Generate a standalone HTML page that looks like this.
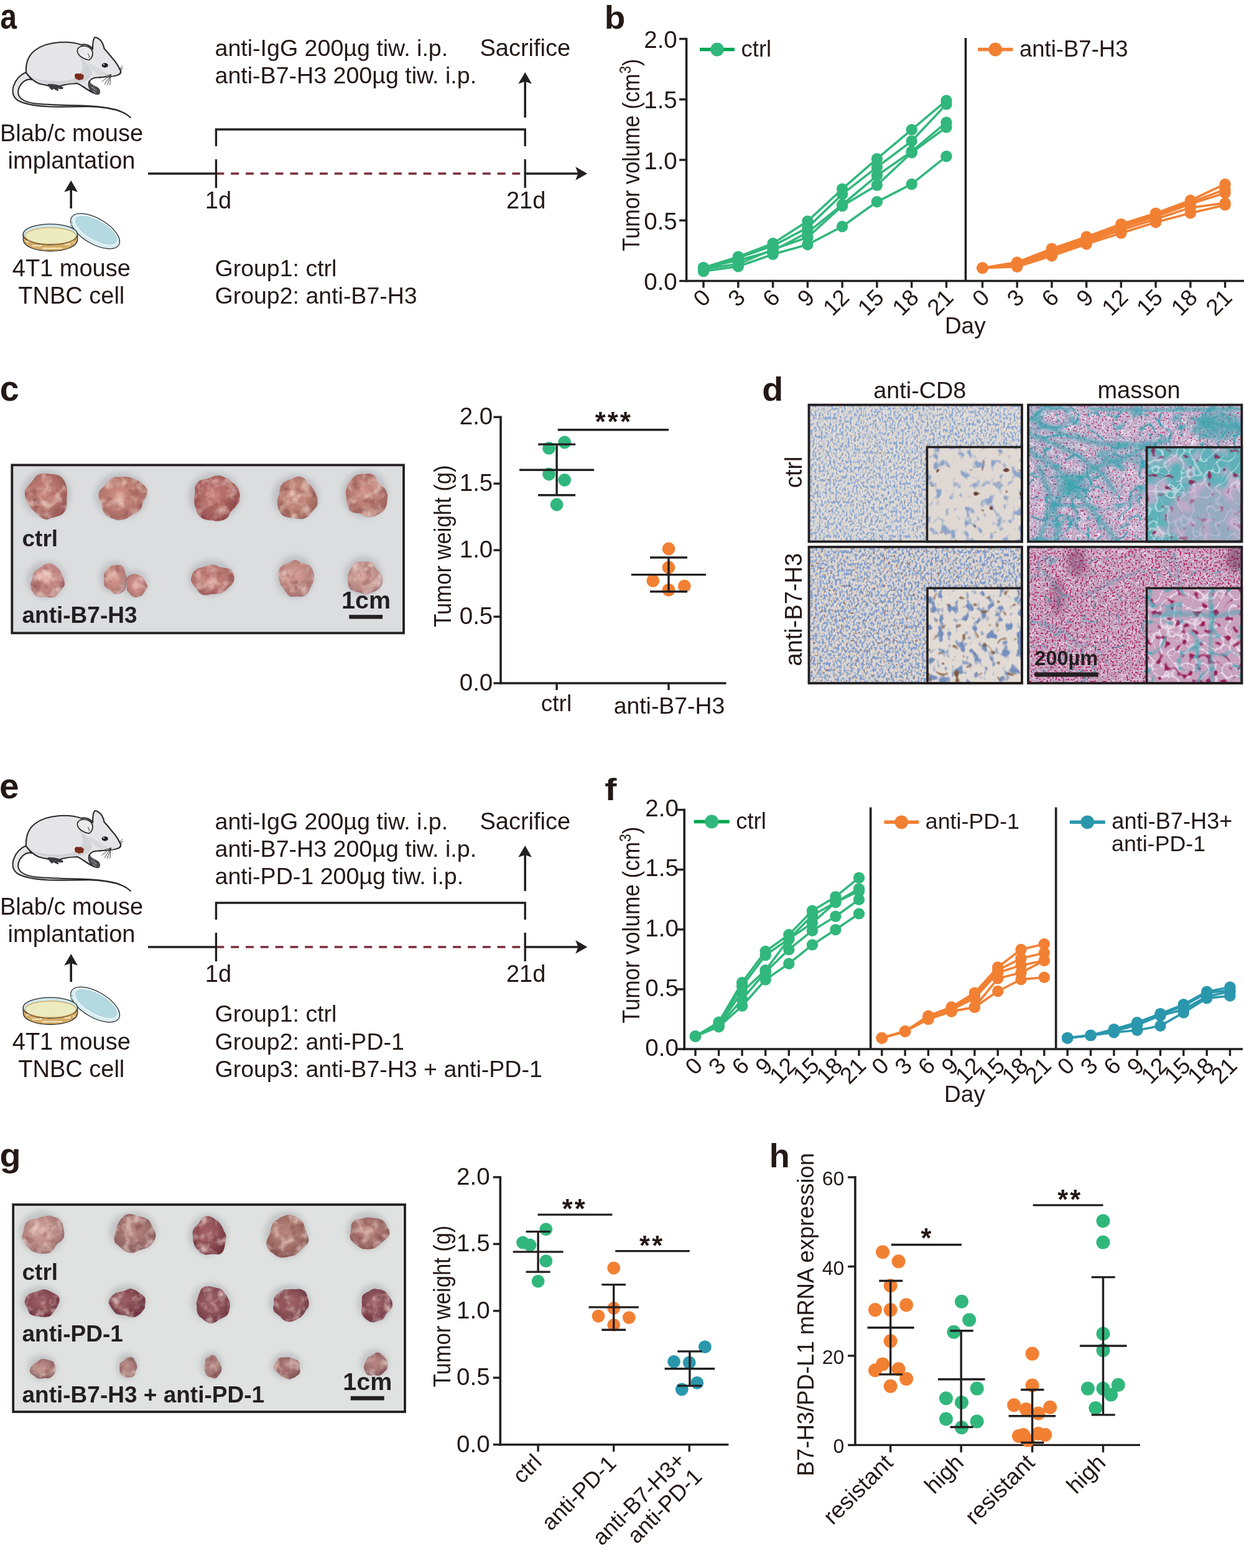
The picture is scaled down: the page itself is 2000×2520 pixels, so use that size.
<!DOCTYPE html>
<html><head><meta charset="utf-8"><title>Figure</title>
<style>html,body{margin:0;padding:0;background:#fff;} svg{display:block;} text{font-family:'Liberation Sans', Arial, Helvetica, sans-serif;}</style>
</head><body>
<svg xmlns="http://www.w3.org/2000/svg" width="2000" height="2520" viewBox="0 0 2000 2520">
<defs><filter id="shblur" x="-30%" y="-30%" width="160%" height="160%"><feGaussianBlur stdDeviation="4"/></filter><filter id="mottle0" x="0" y="0" width="1" height="1" color-interpolation-filters="sRGB"><feTurbulence type="fractalNoise" baseFrequency="0.06" numOctaves="3" seed="2" result="n"/><feColorMatrix in="n" type="matrix" values="0 0 0 0 0.98 0 0 0 0 0.9 0 0 0 0 0.86 1.6 0 0 0 -0.72" result="hl"/><feColorMatrix in="n" type="matrix" values="0 0 0 0 0.46 0 0 0 0 0.2 0 0 0 0 0.22 0 -1.4 0 0 0.64" result="dk"/><feMerge result="m"><feMergeNode in="dk"/><feMergeNode in="hl"/></feMerge><feComposite in="m" in2="SourceGraphic" operator="atop"/></filter><filter id="mottle1" x="0" y="0" width="1" height="1" color-interpolation-filters="sRGB"><feTurbulence type="fractalNoise" baseFrequency="0.06" numOctaves="3" seed="9" result="n"/><feColorMatrix in="n" type="matrix" values="0 0 0 0 0.98 0 0 0 0 0.9 0 0 0 0 0.86 1.6 0 0 0 -0.72" result="hl"/><feColorMatrix in="n" type="matrix" values="0 0 0 0 0.46 0 0 0 0 0.2 0 0 0 0 0.22 0 -1.4 0 0 0.64" result="dk"/><feMerge result="m"><feMergeNode in="dk"/><feMergeNode in="hl"/></feMerge><feComposite in="m" in2="SourceGraphic" operator="atop"/></filter><filter id="mottle2" x="0" y="0" width="1" height="1" color-interpolation-filters="sRGB"><feTurbulence type="fractalNoise" baseFrequency="0.06" numOctaves="3" seed="16" result="n"/><feColorMatrix in="n" type="matrix" values="0 0 0 0 0.98 0 0 0 0 0.9 0 0 0 0 0.86 1.6 0 0 0 -0.72" result="hl"/><feColorMatrix in="n" type="matrix" values="0 0 0 0 0.46 0 0 0 0 0.2 0 0 0 0 0.22 0 -1.4 0 0 0.64" result="dk"/><feMerge result="m"><feMergeNode in="dk"/><feMergeNode in="hl"/></feMerge><feComposite in="m" in2="SourceGraphic" operator="atop"/></filter><radialGradient id="tg1" cx="0.45" cy="0.42" r="0.6"><stop offset="0" stop-color="rgb(204,136,128)"/><stop offset="0.55" stop-color="rgb(180,114,106)"/><stop offset="1" stop-color="rgb(152,88,86)"/></radialGradient><radialGradient id="tg2" cx="0.45" cy="0.42" r="0.6"><stop offset="0" stop-color="rgb(210,146,134)"/><stop offset="0.55" stop-color="rgb(186,124,112)"/><stop offset="1" stop-color="rgb(158,98,92)"/></radialGradient><radialGradient id="tg3" cx="0.45" cy="0.42" r="0.6"><stop offset="0" stop-color="rgb(198,124,120)"/><stop offset="0.55" stop-color="rgb(174,102,98)"/><stop offset="1" stop-color="rgb(146,76,78)"/></radialGradient><radialGradient id="tg4" cx="0.45" cy="0.42" r="0.6"><stop offset="0" stop-color="rgb(208,148,134)"/><stop offset="0.55" stop-color="rgb(184,126,112)"/><stop offset="1" stop-color="rgb(156,100,92)"/></radialGradient><radialGradient id="tg5" cx="0.45" cy="0.42" r="0.6"><stop offset="0" stop-color="rgb(208,146,136)"/><stop offset="0.55" stop-color="rgb(184,124,114)"/><stop offset="1" stop-color="rgb(156,98,94)"/></radialGradient><radialGradient id="tg6" cx="0.45" cy="0.42" r="0.6"><stop offset="0" stop-color="rgb(220,160,154)"/><stop offset="0.55" stop-color="rgb(196,138,132)"/><stop offset="1" stop-color="rgb(168,112,112)"/></radialGradient><radialGradient id="tg7" cx="0.45" cy="0.42" r="0.6"><stop offset="0" stop-color="rgb(218,156,148)"/><stop offset="0.55" stop-color="rgb(194,134,126)"/><stop offset="1" stop-color="rgb(166,108,106)"/></radialGradient><radialGradient id="tg8" cx="0.45" cy="0.42" r="0.6"><stop offset="0" stop-color="rgb(210,142,136)"/><stop offset="0.55" stop-color="rgb(186,120,114)"/><stop offset="1" stop-color="rgb(158,94,94)"/></radialGradient><radialGradient id="tg9" cx="0.45" cy="0.42" r="0.6"><stop offset="0" stop-color="rgb(216,160,152)"/><stop offset="0.55" stop-color="rgb(192,138,130)"/><stop offset="1" stop-color="rgb(164,112,110)"/></radialGradient><radialGradient id="tg10" cx="0.45" cy="0.42" r="0.6"><stop offset="0" stop-color="rgb(218,168,162)"/><stop offset="0.55" stop-color="rgb(194,146,140)"/><stop offset="1" stop-color="rgb(166,120,120)"/></radialGradient><radialGradient id="tg11" cx="0.45" cy="0.42" r="0.6"><stop offset="0" stop-color="rgb(216,152,146)"/><stop offset="0.55" stop-color="rgb(192,130,124)"/><stop offset="1" stop-color="rgb(164,104,104)"/></radialGradient><radialGradient id="tg12" cx="0.45" cy="0.42" r="0.6"><stop offset="0" stop-color="rgb(210,162,156)"/><stop offset="0.55" stop-color="rgb(186,140,134)"/><stop offset="1" stop-color="rgb(158,114,114)"/></radialGradient><radialGradient id="tg13" cx="0.45" cy="0.42" r="0.6"><stop offset="0" stop-color="rgb(184,136,132)"/><stop offset="0.55" stop-color="rgb(160,114,110)"/><stop offset="1" stop-color="rgb(132,88,90)"/></radialGradient><radialGradient id="tg14" cx="0.45" cy="0.42" r="0.6"><stop offset="0" stop-color="rgb(166,100,106)"/><stop offset="0.55" stop-color="rgb(142,78,84)"/><stop offset="1" stop-color="rgb(114,52,64)"/></radialGradient><radialGradient id="tg15" cx="0.45" cy="0.42" r="0.6"><stop offset="0" stop-color="rgb(186,134,126)"/><stop offset="0.55" stop-color="rgb(162,112,104)"/><stop offset="1" stop-color="rgb(134,86,84)"/></radialGradient><radialGradient id="tg16" cx="0.45" cy="0.42" r="0.6"><stop offset="0" stop-color="rgb(190,138,132)"/><stop offset="0.55" stop-color="rgb(166,116,110)"/><stop offset="1" stop-color="rgb(138,90,90)"/></radialGradient><radialGradient id="tg17" cx="0.45" cy="0.42" r="0.6"><stop offset="0" stop-color="rgb(160,98,106)"/><stop offset="0.55" stop-color="rgb(136,76,84)"/><stop offset="1" stop-color="rgb(108,50,64)"/></radialGradient><radialGradient id="tg18" cx="0.45" cy="0.42" r="0.6"><stop offset="0" stop-color="rgb(158,96,104)"/><stop offset="0.55" stop-color="rgb(134,74,82)"/><stop offset="1" stop-color="rgb(106,48,62)"/></radialGradient><radialGradient id="tg19" cx="0.45" cy="0.42" r="0.6"><stop offset="0" stop-color="rgb(162,102,110)"/><stop offset="0.55" stop-color="rgb(138,80,88)"/><stop offset="1" stop-color="rgb(110,54,68)"/></radialGradient><radialGradient id="tg20" cx="0.45" cy="0.42" r="0.6"><stop offset="0" stop-color="rgb(164,104,110)"/><stop offset="0.55" stop-color="rgb(140,82,88)"/><stop offset="1" stop-color="rgb(112,56,68)"/></radialGradient><radialGradient id="tg21" cx="0.45" cy="0.42" r="0.6"><stop offset="0" stop-color="rgb(160,100,108)"/><stop offset="0.55" stop-color="rgb(136,78,86)"/><stop offset="1" stop-color="rgb(108,52,66)"/></radialGradient><radialGradient id="tg22" cx="0.45" cy="0.42" r="0.6"><stop offset="0" stop-color="rgb(192,144,142)"/><stop offset="0.55" stop-color="rgb(168,122,120)"/><stop offset="1" stop-color="rgb(140,96,100)"/></radialGradient><radialGradient id="tg23" cx="0.45" cy="0.42" r="0.6"><stop offset="0" stop-color="rgb(190,146,142)"/><stop offset="0.55" stop-color="rgb(166,124,120)"/><stop offset="1" stop-color="rgb(138,98,100)"/></radialGradient><radialGradient id="tg24" cx="0.45" cy="0.42" r="0.6"><stop offset="0" stop-color="rgb(192,148,144)"/><stop offset="0.55" stop-color="rgb(168,126,122)"/><stop offset="1" stop-color="rgb(140,100,102)"/></radialGradient><radialGradient id="tg25" cx="0.45" cy="0.42" r="0.6"><stop offset="0" stop-color="rgb(184,134,132)"/><stop offset="0.55" stop-color="rgb(160,112,110)"/><stop offset="1" stop-color="rgb(132,86,90)"/></radialGradient><radialGradient id="tg26" cx="0.45" cy="0.42" r="0.6"><stop offset="0" stop-color="rgb(188,140,138)"/><stop offset="0.55" stop-color="rgb(164,118,116)"/><stop offset="1" stop-color="rgb(136,92,96)"/></radialGradient><filter id="cd8a" x="0" y="0" width="1" height="1" color-interpolation-filters="sRGB"><feFlood flood-color="#e0dad4" result="bg"/><feTurbulence type="fractalNoise" baseFrequency="0.3 0.2" numOctaves="2" seed="4" result="n1"/><feColorMatrix in="n1" type="matrix" values="0 0 0 0 0.55 0 0 0 0 0.66 0 0 0 0 0.83 6 0 0 0 -2.85" result="blue"/><feTurbulence type="fractalNoise" baseFrequency="0.3" numOctaves="1" seed="21" result="n2"/><feColorMatrix in="n2" type="matrix" values="0 0 0 0 0.62 0 0 0 0 0.42 0 0 0 0 0.32 0 10 0 0 -7.0" result="brown"/><feMerge><feMergeNode in="bg"/><feMergeNode in="blue"/><feMergeNode in="brown"/></feMerge></filter><filter id="cd8b" x="0" y="0" width="1" height="1" color-interpolation-filters="sRGB"><feFlood flood-color="#ded6d0" result="bg"/><feTurbulence type="fractalNoise" baseFrequency="0.28 0.2" numOctaves="2" seed="9" result="n1"/><feColorMatrix in="n1" type="matrix" values="0 0 0 0 0.5 0 0 0 0 0.62 0 0 0 0 0.82 6 0 0 0 -2.8" result="blue"/><feTurbulence type="fractalNoise" baseFrequency="0.25" numOctaves="1" seed="31" result="n2"/><feColorMatrix in="n2" type="matrix" values="0 0 0 0 0.62 0 0 0 0 0.44 0 0 0 0 0.32 0 8 0 0 -5.1" result="brown"/><feMerge><feMergeNode in="bg"/><feMergeNode in="blue"/><feMergeNode in="brown"/></feMerge></filter><filter id="cd8ia" x="0" y="0" width="1" height="1" color-interpolation-filters="sRGB"><feFlood flood-color="#e0d9d3" result="bg"/><feTurbulence type="fractalNoise" baseFrequency="0.08 0.065" numOctaves="2" seed="6" result="n1"/><feColorMatrix in="n1" type="matrix" values="0 0 0 0 0.55 0 0 0 0 0.64 0 0 0 0 0.79 6 0 0 0 -3.3" result="blue"/><feTurbulence type="fractalNoise" baseFrequency="0.08" numOctaves="1" seed="14" result="n2"/><feColorMatrix in="n2" type="matrix" values="0 0 0 0 0.42 0 0 0 0 0.26 0 0 0 0 0.22 0 14 0 0 -10.0" result="brown"/><feMerge><feMergeNode in="bg"/><feMergeNode in="blue"/><feMergeNode in="brown"/></feMerge></filter><filter id="cd8ib" x="0" y="0" width="1" height="1" color-interpolation-filters="sRGB"><feFlood flood-color="#e2dbd5" result="bg"/><feTurbulence type="fractalNoise" baseFrequency="0.085 0.07" numOctaves="2" seed="16" result="n1"/><feColorMatrix in="n1" type="matrix" values="0 0 0 0 0.46 0 0 0 0 0.56 0 0 0 0 0.74 6 0 0 0 -3.2" result="blue"/><feTurbulence type="fractalNoise" baseFrequency="0.09" numOctaves="1" seed="24" result="n2"/><feColorMatrix in="n2" type="matrix" values="0 0 0 0 0.5 0 0 0 0 0.34 0 0 0 0 0.22 0 8 0 0 -5.1" result="brown"/><feMerge><feMergeNode in="bg"/><feMergeNode in="blue"/><feMergeNode in="brown"/></feMerge></filter><filter id="ma" x="0" y="0" width="1" height="1" color-interpolation-filters="sRGB"><feFlood flood-color="#c2aecb" result="bg"/><feTurbulence type="turbulence" baseFrequency="0.13" numOctaves="1" seed="5" result="n3"/><feColorMatrix in="n3" type="matrix" values="0 0 0 0 0.94 0 0 0 0 0.92 0 0 0 0 0.96 -9 0 0 0 0.85" result="wh"/><feTurbulence type="fractalNoise" baseFrequency="0.35" numOctaves="1" seed="3" result="n1"/><feColorMatrix in="n1" type="matrix" values="0 0 0 0 0.74 0 0 0 0 0.2 0 0 0 0 0.42 10 0 0 0 -6.0" result="nuc"/><feTurbulence type="turbulence" baseFrequency="0.01 0.016" numOctaves="3" seed="8" result="n2"/><feColorMatrix in="n2" type="matrix" values="0 0 0 0 0.3 0 0 0 0 0.66 0 0 0 0 0.72 -5 0 0 0 1.0" result="fib"/><feTurbulence type="turbulence" baseFrequency="0.03" numOctaves="2" seed="12" result="n4"/><feColorMatrix in="n4" type="matrix" values="0 0 0 0 0.18 0 0 0 0 0.62 0 0 0 0 0.68 -10 0 0 0 1.05" result="fib2"/><feMerge><feMergeNode in="bg"/><feMergeNode in="wh"/><feMergeNode in="nuc"/><feMergeNode in="fib"/><feMergeNode in="fib2"/></feMerge></filter><filter id="mb" x="0" y="0" width="1" height="1" color-interpolation-filters="sRGB"><feFlood flood-color="#c19dba" result="bg"/><feTurbulence type="turbulence" baseFrequency="0.14" numOctaves="1" seed="15" result="n3"/><feColorMatrix in="n3" type="matrix" values="0 0 0 0 0.94 0 0 0 0 0.9 0 0 0 0 0.95 -9 0 0 0 0.8" result="wh"/><feTurbulence type="fractalNoise" baseFrequency="0.35" numOctaves="1" seed="13" result="n1"/><feColorMatrix in="n1" type="matrix" values="0 0 0 0 0.72 0 0 0 0 0.16 0 0 0 0 0.4 10 0 0 0 -5.5" result="nuc"/><feTurbulence type="fractalNoise" baseFrequency="0.02" numOctaves="2" seed="19" result="n4"/><feColorMatrix in="n4" type="matrix" values="0 0 0 0 0.45 0 0 0 0 0.14 0 0 0 0 0.34 3 0 0 0 -1.85" result="dk"/><feTurbulence type="turbulence" baseFrequency="0.025" numOctaves="2" seed="18" result="n2"/><feColorMatrix in="n2" type="matrix" values="0 0 0 0 0.28 0 0 0 0 0.6 0 0 0 0 0.68 -10 0 0 0 0.75" result="fib"/><feMerge><feMergeNode in="bg"/><feMergeNode in="wh"/><feMergeNode in="nuc"/><feMergeNode in="fib"/></feMerge></filter><filter id="mia" x="0" y="0" width="1" height="1" color-interpolation-filters="sRGB"><feFlood flood-color="#5fb1b9" result="bg"/><feTurbulence type="fractalNoise" baseFrequency="0.03" numOctaves="2" seed="23" result="n1"/><feColorMatrix in="n1" type="matrix" values="0 0 0 0 0.76 0 0 0 0 0.68 0 0 0 0 0.8 4 0 0 0 -1.9" result="cell"/><feTurbulence type="turbulence" baseFrequency="0.05" numOctaves="1" seed="29" result="n3"/><feColorMatrix in="n3" type="matrix" values="0 0 0 0 0.9 0 0 0 0 0.94 0 0 0 0 0.95 -8 0 0 0 0.6" result="wh"/><feTurbulence type="fractalNoise" baseFrequency="0.1" numOctaves="1" seed="27" result="n2"/><feColorMatrix in="n2" type="matrix" values="0 0 0 0 0.55 0 0 0 0 0.2 0 0 0 0 0.38 9 0 0 0 -5.7" result="nuc"/><feMerge><feMergeNode in="bg"/><feMergeNode in="cell"/><feMergeNode in="wh"/><feMergeNode in="nuc"/></feMerge></filter><filter id="mib" x="0" y="0" width="1" height="1" color-interpolation-filters="sRGB"><feFlood flood-color="#c8a2be" result="bg"/><feTurbulence type="turbulence" baseFrequency="0.045" numOctaves="1" seed="33" result="n3"/><feColorMatrix in="n3" type="matrix" values="0 0 0 0 0.95 0 0 0 0 0.92 0 0 0 0 0.96 -9 0 0 0 0.75" result="wh"/><feTurbulence type="fractalNoise" baseFrequency="0.1" numOctaves="1" seed="37" result="n1"/><feColorMatrix in="n1" type="matrix" values="0 0 0 0 0.6 0 0 0 0 0.12 0 0 0 0 0.34 8 0 0 0 -4.7" result="nuc"/><feTurbulence type="turbulence" baseFrequency="0.02" numOctaves="2" seed="38" result="n2"/><feColorMatrix in="n2" type="matrix" values="0 0 0 0 0.3 0 0 0 0 0.66 0 0 0 0 0.72 -8 0 0 0 0.95" result="fib"/><feMerge><feMergeNode in="bg"/><feMergeNode in="wh"/><feMergeNode in="nuc"/><feMergeNode in="fib"/></feMerge></filter><filter id="blur2" x="-20%" y="-20%" width="140%" height="140%"><feGaussianBlur stdDeviation="2.2"/></filter><filter id="blur5" x="-30%" y="-30%" width="160%" height="160%"><feGaussianBlur stdDeviation="5"/></filter><clipPath id="clip_cd8a"><rect x="1300.5" y="650.7" width="342.5" height="219.8"/></clipPath><clipPath id="clip_ma"><rect x="1653" y="650.7" width="343.4" height="219.8"/></clipPath><clipPath id="clip_mia"><rect x="1843.6" y="718.8" width="152.8" height="151.7"/></clipPath><clipPath id="clip_cd8b"><rect x="1300.5" y="879" width="342.5" height="219.0"/></clipPath><clipPath id="clip_mb"><rect x="1653" y="879" width="343.4" height="219.0"/></clipPath><clipPath id="clip_mib"><rect x="1843.6" y="945.3" width="152.8" height="152.7"/></clipPath></defs>
<rect width="2000" height="2520" fill="#fff"/>
<text x="0" y="0" font-size="58" font-weight="bold" fill="#231815" transform="translate(0.3 45.8) scale(0.83 1)">a</text>
<text x="0" y="0" font-size="52.2" font-weight="bold" fill="#231815" transform="translate(971.7 46.3) scale(1.05 1)">b</text>
<text x="0" y="0" font-size="57.3" font-weight="bold" fill="#231815" transform="translate(-0.3 644.2) scale(0.97 1)">c</text>
<text x="0" y="0" font-size="53" font-weight="bold" fill="#231815" transform="translate(1225.3 644.3) scale(1.05 1)">d</text>
<text x="0" y="0" font-size="57.3" font-weight="bold" fill="#231815" transform="translate(-0.9 1283.2) scale(0.99 1)">e</text>
<text x="0" y="0" font-size="50" font-weight="bold" fill="#231815" transform="translate(972.3 1286.2) scale(1.15 1)">f</text>
<text x="0" y="0" font-size="53" font-weight="bold" fill="#231815" transform="translate(-0.4 1875) scale(1.05 1)">g</text>
<text x="0" y="0" font-size="53" font-weight="bold" fill="#231815" transform="translate(1236.8 1875.5) scale(1.02 1)">h</text>
<g transform="translate(0,0)">
<path d="M42,116 C33,120 25,128 21.5,139 C19,149 22,157 29,161.5 C40,168 56,170 76,171.2 C100,172.2 122,171.3 142,171.3 C163,171.5 183,175 197,180.5 C203,183 207,186 210,189 C204,183.5 196,179 186,176 C170,172 150,170 128,169.5 C104,169 78,168.5 58,166.5 C44,165 35,161 31,155 C27,148 30,139 36,133 C40,129 46,127 51,128 Z" fill="#e6e6e8" stroke="#2b2b2b" stroke-width="2.1" stroke-linejoin="round"/>
<path d="M42,117 C41,100 47,88 56,81 C65,74 80,69 96,68 C110,67 122,69 131,72 C138,70 146,74 149,79 C149,70 150,62 152.5,60 C156,60 161,63 164,68 C166,72 167,75 167.5,78 C172,83 177,89 181,94 C186,99 190,106 193,112 C195,115 194,118 191,120 C186,122 181,123 176,123 C168,124 160,124 152,125 C148,126 144,129 143.5,132 C145,136 150,141 156,145 C158,147 160,149 158,151 C152,151 145,147 139,143 C133,139 128,135 124,134 C116,134 108,135 100,137 C96,138 93,140 90,141 L84,139 C76,137 68,136 62,134 C55,131 48,125 42,117 Z" fill="#e5e5e7" stroke="#2b2b2b" stroke-width="2.2" stroke-linejoin="round"/>
<path d="M50,124 C62,128 80,131 100,130 C115,129 126,124 132,114 C134,106 132,98 128,92 C138,98 146,108 148,118 C146,126 140,130 130,132 C116,134 100,135 86,136 C72,135 60,131 50,124 Z" fill="#d2d3d7"/>
<path d="M140,100 C150,104 160,110 168,116 C176,120 186,120 191,118 C186,122 176,123 168,123 C158,122 148,116 140,100 Z" fill="#d8d9dc"/>
<path d="M143,96.5 C134,95 126,90 124.5,83 C123.5,77 129,73.5 136,74 C143,74.5 148.5,79 149,85 C149.3,90 147,94 143,96.5 Z" fill="#ebebed" stroke="#2b2b2b" stroke-width="1.7"/>
<path d="M141,86 C143,88 144,91 143,93" fill="none" stroke="#2b2b2b" stroke-width="1"/>
<ellipse cx="168.7" cy="105" rx="5.1" ry="3.7" fill="#1e1e1e"/>
<circle cx="167" cy="103.8" r="1.1" fill="#fff"/>
<line x1="178.3" y1="119.8" x2="159.3" y2="125.7" stroke="#2b2b2b" stroke-width="0.9"/>
<line x1="178.3" y1="119.8" x2="163.6" y2="131.5" stroke="#2b2b2b" stroke-width="0.9"/>
<line x1="178.3" y1="119.8" x2="168" y2="135.9" stroke="#2b2b2b" stroke-width="0.9"/>
<line x1="178.3" y1="119.8" x2="172.4" y2="137.3" stroke="#2b2b2b" stroke-width="0.9"/>
<line x1="178.3" y1="119.8" x2="176.8" y2="136.6" stroke="#2b2b2b" stroke-width="0.9"/>
<line x1="191.4" y1="111" x2="197.2" y2="105.2" stroke="#2b2b2b" stroke-width="0.9"/>
<line x1="191.4" y1="111" x2="198" y2="109.6" stroke="#2b2b2b" stroke-width="0.9"/>
<line x1="191.4" y1="111" x2="196.5" y2="113.2" stroke="#2b2b2b" stroke-width="0.9"/>
<path d="M143,131 C145,134 150,137 155,140 C159,142 161,145 160,148 C161,150 159,152 156,151.5 C152,151 148,148.5 146,146 C143,142 141.5,136 143,131 Z" fill="#4c4c50" stroke="#2b2b2b" stroke-width="1.1"/>
<path d="M145.5,134 C148,135.5 151,137.5 153,139.5 M147,140 C150,141.5 153,143.5 155,146 M149,145.5 C151,147 153,148.5 154.5,150" fill="none" stroke="#d5d5d8" stroke-width="0.9"/>
<path d="M77,135.5 C82,135 89,136 95,137.5 C99,138.5 102,140.5 101,142.5 C98,143.5 95,142.5 92,141.5 L94,145.5 C91,145.5 88,143.5 86,142 L84,144.5 C81,143 79,140 77,135.5 Z" fill="#3c3c40" stroke="#2b2b2b" stroke-width="0.8"/>
<path d="M121,119.5 C122,117.5 125,117.8 126.5,118.6 C128,117.6 131,118 132,119.6 C134.6,119.8 135.5,122.5 134.2,124.4 C134.8,126.8 132.5,128.6 130,127.8 C128.5,129.2 125.5,129 124.5,127.4 C122,127.8 119.8,125.6 120.6,123.6 C119.4,122.2 119.8,120.2 121,119.5 Z" fill="#7b2b1c"/>
</g>
<g transform="translate(0,0)">
<ellipse cx="153" cy="371.5" rx="44" ry="20.5" transform="rotate(30 153 371.5)" fill="#d6ecf0" stroke="#2b2b2b" stroke-width="1.3"/>
<ellipse cx="154.5" cy="370" rx="39" ry="16.5" transform="rotate(30 154.5 370)" fill="#b4d9e1" stroke="#ffffff" stroke-width="1.2"/>
<path d="M116,356 C113,362 114,370 120,378" fill="none" stroke="#8fc3cf" stroke-width="2"/>
<path d="M37.2,377 L37.5,387 C40,397 58,403.5 81,403.5 C104,403.5 122,397 124.5,387 L124.7,377 Z" fill="#d6ad66" stroke="#2b2b2b" stroke-width="1.3"/>
<path d="M42,388 L48,388 M52,395 L66,395 L66,391 M68,399 L100,399 M104,393 L112,393 L112,390 M117,390 L120,390" fill="none" stroke="#f3e6c6" stroke-width="1.8"/>
<ellipse cx="80.9" cy="376.7" rx="43.8" ry="16.6" fill="#cde7ec" stroke="#2b2b2b" stroke-width="1.4"/>
<ellipse cx="81.3" cy="379" rx="41" ry="13.2" fill="#ecebbf" stroke="#cfa55e" stroke-width="1.2"/>
</g>
<text x="115.0" y="227.2" font-size="38" text-anchor="middle" fill="#231815">Blab/c mouse</text>
<text x="115.0" y="271.3" font-size="38" text-anchor="middle" fill="#231815">implantation</text>
<line x1="114.2" y1="335.0" x2="114.2" y2="300.0" stroke="#231f20" stroke-width="3.6"/>
<path d="M103.2,308.8 L114.2,290 L125,308.8 L114.2,305 Z" transform="translate(0,0)" fill="#231f20"/>
<text x="114.8" y="443.5" font-size="38" text-anchor="middle" fill="#231815">4T1 mouse</text>
<text x="114.8" y="488.0" font-size="38" text-anchor="middle" fill="#231815">TNBC cell</text>
<text x="345.5" y="89.6" font-size="37.6" text-anchor="start" fill="#231815">anti-IgG 200µg tiw. i.p.</text>
<text x="345.5" y="133.8" font-size="37.6" text-anchor="start" fill="#231815">anti-B7-H3 200µg tiw. i.p.</text>
<text x="844.3" y="89.6" font-size="38" text-anchor="middle" fill="#231815">Sacrifice</text>
<line x1="844.2" y1="188.9" x2="844.2" y2="128.0" stroke="#231f20" stroke-width="3.6"/>
<path d="M833.2,134.8 L844.2,115.9 L855,134.8 L844.2,131 Z" transform="translate(0,0)" fill="#231f20"/>
<path d="M347.4,235 L347.4,208 L844.2,208 L844.2,235" transform="translate(0,0)" fill="none" stroke="#231f20" stroke-width="3.4"/>
<line x1="238.0" y1="279.0" x2="347.4" y2="279.0" stroke="#231f20" stroke-width="3.5"/>
<line x1="347.4" y1="279.0" x2="844.0" y2="279.0" stroke="#7a2d38" stroke-width="3.5" stroke-dasharray="12.9 10.9"/>
<line x1="844.0" y1="279.0" x2="934.0" y2="279.0" stroke="#231f20" stroke-width="3.6"/>
<path d="M925.2,268.1 L944.2,279 L925.2,289.8 L929.5,279 Z" transform="translate(0,0)" fill="#231f20"/>
<line x1="347.4" y1="256.0" x2="347.4" y2="302.0" stroke="#231f20" stroke-width="3.4"/>
<line x1="844.2" y1="256.0" x2="844.2" y2="302.0" stroke="#231f20" stroke-width="3.4"/>
<text x="351.0" y="334.6" font-size="38" text-anchor="middle" fill="#231815">1d</text>
<text x="845.7" y="334.6" font-size="38" text-anchor="middle" fill="#231815">21d</text>
<text x="345.5" y="444.0" font-size="37.5" text-anchor="start" fill="#231815">Group1: ctrl</text>
<text x="345.5" y="488.3" font-size="37.5" text-anchor="start" fill="#231815">Group2: anti-B7-H3</text>
<g transform="translate(0,1243)">
<path d="M42,116 C33,120 25,128 21.5,139 C19,149 22,157 29,161.5 C40,168 56,170 76,171.2 C100,172.2 122,171.3 142,171.3 C163,171.5 183,175 197,180.5 C203,183 207,186 210,189 C204,183.5 196,179 186,176 C170,172 150,170 128,169.5 C104,169 78,168.5 58,166.5 C44,165 35,161 31,155 C27,148 30,139 36,133 C40,129 46,127 51,128 Z" fill="#e6e6e8" stroke="#2b2b2b" stroke-width="2.1" stroke-linejoin="round"/>
<path d="M42,117 C41,100 47,88 56,81 C65,74 80,69 96,68 C110,67 122,69 131,72 C138,70 146,74 149,79 C149,70 150,62 152.5,60 C156,60 161,63 164,68 C166,72 167,75 167.5,78 C172,83 177,89 181,94 C186,99 190,106 193,112 C195,115 194,118 191,120 C186,122 181,123 176,123 C168,124 160,124 152,125 C148,126 144,129 143.5,132 C145,136 150,141 156,145 C158,147 160,149 158,151 C152,151 145,147 139,143 C133,139 128,135 124,134 C116,134 108,135 100,137 C96,138 93,140 90,141 L84,139 C76,137 68,136 62,134 C55,131 48,125 42,117 Z" fill="#e5e5e7" stroke="#2b2b2b" stroke-width="2.2" stroke-linejoin="round"/>
<path d="M50,124 C62,128 80,131 100,130 C115,129 126,124 132,114 C134,106 132,98 128,92 C138,98 146,108 148,118 C146,126 140,130 130,132 C116,134 100,135 86,136 C72,135 60,131 50,124 Z" fill="#d2d3d7"/>
<path d="M140,100 C150,104 160,110 168,116 C176,120 186,120 191,118 C186,122 176,123 168,123 C158,122 148,116 140,100 Z" fill="#d8d9dc"/>
<path d="M143,96.5 C134,95 126,90 124.5,83 C123.5,77 129,73.5 136,74 C143,74.5 148.5,79 149,85 C149.3,90 147,94 143,96.5 Z" fill="#ebebed" stroke="#2b2b2b" stroke-width="1.7"/>
<path d="M141,86 C143,88 144,91 143,93" fill="none" stroke="#2b2b2b" stroke-width="1"/>
<ellipse cx="168.7" cy="105" rx="5.1" ry="3.7" fill="#1e1e1e"/>
<circle cx="167" cy="103.8" r="1.1" fill="#fff"/>
<line x1="178.3" y1="119.8" x2="159.3" y2="125.7" stroke="#2b2b2b" stroke-width="0.9"/>
<line x1="178.3" y1="119.8" x2="163.6" y2="131.5" stroke="#2b2b2b" stroke-width="0.9"/>
<line x1="178.3" y1="119.8" x2="168" y2="135.9" stroke="#2b2b2b" stroke-width="0.9"/>
<line x1="178.3" y1="119.8" x2="172.4" y2="137.3" stroke="#2b2b2b" stroke-width="0.9"/>
<line x1="178.3" y1="119.8" x2="176.8" y2="136.6" stroke="#2b2b2b" stroke-width="0.9"/>
<line x1="191.4" y1="111" x2="197.2" y2="105.2" stroke="#2b2b2b" stroke-width="0.9"/>
<line x1="191.4" y1="111" x2="198" y2="109.6" stroke="#2b2b2b" stroke-width="0.9"/>
<line x1="191.4" y1="111" x2="196.5" y2="113.2" stroke="#2b2b2b" stroke-width="0.9"/>
<path d="M143,131 C145,134 150,137 155,140 C159,142 161,145 160,148 C161,150 159,152 156,151.5 C152,151 148,148.5 146,146 C143,142 141.5,136 143,131 Z" fill="#4c4c50" stroke="#2b2b2b" stroke-width="1.1"/>
<path d="M145.5,134 C148,135.5 151,137.5 153,139.5 M147,140 C150,141.5 153,143.5 155,146 M149,145.5 C151,147 153,148.5 154.5,150" fill="none" stroke="#d5d5d8" stroke-width="0.9"/>
<path d="M77,135.5 C82,135 89,136 95,137.5 C99,138.5 102,140.5 101,142.5 C98,143.5 95,142.5 92,141.5 L94,145.5 C91,145.5 88,143.5 86,142 L84,144.5 C81,143 79,140 77,135.5 Z" fill="#3c3c40" stroke="#2b2b2b" stroke-width="0.8"/>
<path d="M121,119.5 C122,117.5 125,117.8 126.5,118.6 C128,117.6 131,118 132,119.6 C134.6,119.8 135.5,122.5 134.2,124.4 C134.8,126.8 132.5,128.6 130,127.8 C128.5,129.2 125.5,129 124.5,127.4 C122,127.8 119.8,125.6 120.6,123.6 C119.4,122.2 119.8,120.2 121,119.5 Z" fill="#7b2b1c"/>
</g>
<g transform="translate(0,1243)">
<ellipse cx="153" cy="371.5" rx="44" ry="20.5" transform="rotate(30 153 371.5)" fill="#d6ecf0" stroke="#2b2b2b" stroke-width="1.3"/>
<ellipse cx="154.5" cy="370" rx="39" ry="16.5" transform="rotate(30 154.5 370)" fill="#b4d9e1" stroke="#ffffff" stroke-width="1.2"/>
<path d="M116,356 C113,362 114,370 120,378" fill="none" stroke="#8fc3cf" stroke-width="2"/>
<path d="M37.2,377 L37.5,387 C40,397 58,403.5 81,403.5 C104,403.5 122,397 124.5,387 L124.7,377 Z" fill="#d6ad66" stroke="#2b2b2b" stroke-width="1.3"/>
<path d="M42,388 L48,388 M52,395 L66,395 L66,391 M68,399 L100,399 M104,393 L112,393 L112,390 M117,390 L120,390" fill="none" stroke="#f3e6c6" stroke-width="1.8"/>
<ellipse cx="80.9" cy="376.7" rx="43.8" ry="16.6" fill="#cde7ec" stroke="#2b2b2b" stroke-width="1.4"/>
<ellipse cx="81.3" cy="379" rx="41" ry="13.2" fill="#ecebbf" stroke="#cfa55e" stroke-width="1.2"/>
</g>
<text x="115.0" y="1470.2" font-size="38" text-anchor="middle" fill="#231815">Blab/c mouse</text>
<text x="115.0" y="1514.3" font-size="38" text-anchor="middle" fill="#231815">implantation</text>
<line x1="114.2" y1="1578.0" x2="114.2" y2="1543.0" stroke="#231f20" stroke-width="3.6"/>
<path d="M103.2,308.8 L114.2,290 L125,308.8 L114.2,305 Z" transform="translate(0,1243)" fill="#231f20"/>
<text x="114.8" y="1686.5" font-size="38" text-anchor="middle" fill="#231815">4T1 mouse</text>
<text x="114.8" y="1731.0" font-size="38" text-anchor="middle" fill="#231815">TNBC cell</text>
<text x="345.5" y="1332.6" font-size="37.6" text-anchor="start" fill="#231815">anti-IgG 200µg tiw. i.p.</text>
<text x="345.5" y="1376.8" font-size="37.6" text-anchor="start" fill="#231815">anti-B7-H3 200µg tiw. i.p.</text>
<text x="345.5" y="1421.0" font-size="37.6" text-anchor="start" fill="#231815">anti-PD-1 200µg tiw. i.p.</text>
<text x="844.3" y="1332.6" font-size="38" text-anchor="middle" fill="#231815">Sacrifice</text>
<line x1="844.2" y1="1431.9" x2="844.2" y2="1371.0" stroke="#231f20" stroke-width="3.6"/>
<path d="M833.2,134.8 L844.2,115.9 L855,134.8 L844.2,131 Z" transform="translate(0,1243)" fill="#231f20"/>
<path d="M347.4,235 L347.4,208 L844.2,208 L844.2,235" transform="translate(0,1243)" fill="none" stroke="#231f20" stroke-width="3.4"/>
<line x1="238.0" y1="1522.0" x2="347.4" y2="1522.0" stroke="#231f20" stroke-width="3.5"/>
<line x1="347.4" y1="1522.0" x2="844.0" y2="1522.0" stroke="#7a2d38" stroke-width="3.5" stroke-dasharray="12.9 10.9"/>
<line x1="844.0" y1="1522.0" x2="934.0" y2="1522.0" stroke="#231f20" stroke-width="3.6"/>
<path d="M925.2,268.1 L944.2,279 L925.2,289.8 L929.5,279 Z" transform="translate(0,1243)" fill="#231f20"/>
<line x1="347.4" y1="1499.0" x2="347.4" y2="1545.0" stroke="#231f20" stroke-width="3.4"/>
<line x1="844.2" y1="1499.0" x2="844.2" y2="1545.0" stroke="#231f20" stroke-width="3.4"/>
<text x="351.0" y="1577.6" font-size="38" text-anchor="middle" fill="#231815">1d</text>
<text x="845.7" y="1577.6" font-size="38" text-anchor="middle" fill="#231815">21d</text>
<text x="345.5" y="1642.3" font-size="37.5" text-anchor="start" fill="#231815">Group1: ctrl</text>
<text x="345.5" y="1686.6" font-size="37.5" text-anchor="start" fill="#231815">Group2: anti-PD-1</text>
<text x="345.5" y="1730.9" font-size="37.5" text-anchor="start" fill="#231815">Group3: anti-B7-H3 + anti-PD-1</text>
<line x1="1103.6" y1="60.8" x2="1103.6" y2="453.2" stroke="#231f20" stroke-width="3.6"/>
<line x1="1092.1" y1="451.5" x2="1103.6" y2="451.5" stroke="#231f20" stroke-width="3.4"/>
<text x="1088.8" y="466.1" font-size="38.5" text-anchor="end" fill="#231815">0.0</text>
<line x1="1092.1" y1="354.2" x2="1103.6" y2="354.2" stroke="#231f20" stroke-width="3.4"/>
<text x="1088.8" y="368.8" font-size="38.5" text-anchor="end" fill="#231815">0.5</text>
<line x1="1092.1" y1="257.0" x2="1103.6" y2="257.0" stroke="#231f20" stroke-width="3.4"/>
<text x="1088.8" y="271.6" font-size="38.5" text-anchor="end" fill="#231815">1.0</text>
<line x1="1092.1" y1="159.8" x2="1103.6" y2="159.8" stroke="#231f20" stroke-width="3.4"/>
<text x="1088.8" y="174.3" font-size="38.5" text-anchor="end" fill="#231815">1.5</text>
<line x1="1092.1" y1="62.5" x2="1103.6" y2="62.5" stroke="#231f20" stroke-width="3.4"/>
<text x="1088.8" y="77.1" font-size="38.5" text-anchor="end" fill="#231815">2.0</text>
<line x1="1101.9" y1="451.5" x2="2000.0" y2="451.5" stroke="#231f20" stroke-width="3.4"/>
<line x1="1552.5" y1="61.0" x2="1552.5" y2="451.5" stroke="#231f20" stroke-width="3.6"/>
<polyline points="1131.0,435.9 1186.8,428.2 1242.6,408.7 1298.4,393.1 1354.1,364.0 1409.9,324.3 1465.7,295.9 1521.5,251.2" fill="none" stroke="#31b77c" stroke-width="3.6" stroke-linejoin="round"/>
<polyline points="1131.0,432.1 1186.8,424.3 1242.6,400.9 1298.4,381.5 1354.1,330.9 1409.9,297.8 1465.7,245.3 1521.5,204.5" fill="none" stroke="#31b77c" stroke-width="3.6" stroke-linejoin="round"/>
<polyline points="1131.0,430.1 1186.8,418.4 1242.6,402.9 1298.4,373.7 1354.1,329.0 1409.9,282.3 1465.7,243.4 1521.5,196.7" fill="none" stroke="#31b77c" stroke-width="3.6" stroke-linejoin="round"/>
<polyline points="1131.0,434.0 1186.8,414.5 1242.6,395.1 1298.4,365.9 1354.1,312.2 1409.9,268.7 1465.7,226.7 1521.5,167.5" fill="none" stroke="#31b77c" stroke-width="3.6" stroke-linejoin="round"/>
<polyline points="1131.0,430.1 1186.8,412.6 1242.6,391.2 1298.4,355.4 1354.1,303.7 1409.9,255.1 1465.7,208.4 1521.5,161.7" fill="none" stroke="#31b77c" stroke-width="3.6" stroke-linejoin="round"/>
<circle cx="1131.0" cy="435.9" r="9.2" fill="#31b77c"/>
<circle cx="1186.8" cy="428.2" r="9.2" fill="#31b77c"/>
<circle cx="1242.6" cy="408.7" r="9.2" fill="#31b77c"/>
<circle cx="1298.4" cy="393.1" r="9.2" fill="#31b77c"/>
<circle cx="1354.1" cy="364.0" r="9.2" fill="#31b77c"/>
<circle cx="1409.9" cy="324.3" r="9.2" fill="#31b77c"/>
<circle cx="1465.7" cy="295.9" r="9.2" fill="#31b77c"/>
<circle cx="1521.5" cy="251.2" r="9.2" fill="#31b77c"/>
<circle cx="1131.0" cy="432.1" r="9.2" fill="#31b77c"/>
<circle cx="1186.8" cy="424.3" r="9.2" fill="#31b77c"/>
<circle cx="1242.6" cy="400.9" r="9.2" fill="#31b77c"/>
<circle cx="1298.4" cy="381.5" r="9.2" fill="#31b77c"/>
<circle cx="1354.1" cy="330.9" r="9.2" fill="#31b77c"/>
<circle cx="1409.9" cy="297.8" r="9.2" fill="#31b77c"/>
<circle cx="1465.7" cy="245.3" r="9.2" fill="#31b77c"/>
<circle cx="1521.5" cy="204.5" r="9.2" fill="#31b77c"/>
<circle cx="1131.0" cy="430.1" r="9.2" fill="#31b77c"/>
<circle cx="1186.8" cy="418.4" r="9.2" fill="#31b77c"/>
<circle cx="1242.6" cy="402.9" r="9.2" fill="#31b77c"/>
<circle cx="1298.4" cy="373.7" r="9.2" fill="#31b77c"/>
<circle cx="1354.1" cy="329.0" r="9.2" fill="#31b77c"/>
<circle cx="1409.9" cy="282.3" r="9.2" fill="#31b77c"/>
<circle cx="1465.7" cy="243.4" r="9.2" fill="#31b77c"/>
<circle cx="1521.5" cy="196.7" r="9.2" fill="#31b77c"/>
<circle cx="1131.0" cy="434.0" r="9.2" fill="#31b77c"/>
<circle cx="1186.8" cy="414.5" r="9.2" fill="#31b77c"/>
<circle cx="1242.6" cy="395.1" r="9.2" fill="#31b77c"/>
<circle cx="1298.4" cy="365.9" r="9.2" fill="#31b77c"/>
<circle cx="1354.1" cy="312.2" r="9.2" fill="#31b77c"/>
<circle cx="1409.9" cy="268.7" r="9.2" fill="#31b77c"/>
<circle cx="1465.7" cy="226.7" r="9.2" fill="#31b77c"/>
<circle cx="1521.5" cy="167.5" r="9.2" fill="#31b77c"/>
<circle cx="1131.0" cy="430.1" r="9.2" fill="#31b77c"/>
<circle cx="1186.8" cy="412.6" r="9.2" fill="#31b77c"/>
<circle cx="1242.6" cy="391.2" r="9.2" fill="#31b77c"/>
<circle cx="1298.4" cy="355.4" r="9.2" fill="#31b77c"/>
<circle cx="1354.1" cy="303.7" r="9.2" fill="#31b77c"/>
<circle cx="1409.9" cy="255.1" r="9.2" fill="#31b77c"/>
<circle cx="1465.7" cy="208.4" r="9.2" fill="#31b77c"/>
<circle cx="1521.5" cy="161.7" r="9.2" fill="#31b77c"/>
<polyline points="1579.5,430.7 1635.2,428.7 1691.0,411.2 1746.7,392.2 1802.4,374.7 1858.1,357.2 1913.9,342.6 1969.6,329.4" fill="none" stroke="#f28033" stroke-width="3.6" stroke-linejoin="round"/>
<polyline points="1579.5,430.7 1635.2,426.2 1691.0,407.7 1746.7,389.3 1802.4,369.8 1858.1,352.3 1913.9,333.8 1969.6,326.4" fill="none" stroke="#f28033" stroke-width="3.6" stroke-linejoin="round"/>
<polyline points="1579.5,430.7 1635.2,424.3 1691.0,403.8 1746.7,386.3 1802.4,365.9 1858.1,348.4 1913.9,327.8 1969.6,310.3" fill="none" stroke="#f28033" stroke-width="3.6" stroke-linejoin="round"/>
<polyline points="1579.5,430.7 1635.2,422.3 1691.0,400.9 1746.7,383.4 1802.4,363.0 1858.1,345.5 1913.9,325.1 1969.6,304.5" fill="none" stroke="#f28033" stroke-width="3.6" stroke-linejoin="round"/>
<polyline points="1579.5,430.7 1635.2,421.4 1691.0,399.6 1746.7,380.5 1802.4,360.1 1858.1,342.6 1913.9,322.0 1969.6,295.9" fill="none" stroke="#f28033" stroke-width="3.6" stroke-linejoin="round"/>
<circle cx="1579.5" cy="430.7" r="9.2" fill="#f28033"/>
<circle cx="1635.2" cy="428.7" r="9.2" fill="#f28033"/>
<circle cx="1691.0" cy="411.2" r="9.2" fill="#f28033"/>
<circle cx="1746.7" cy="392.2" r="9.2" fill="#f28033"/>
<circle cx="1802.4" cy="374.7" r="9.2" fill="#f28033"/>
<circle cx="1858.1" cy="357.2" r="9.2" fill="#f28033"/>
<circle cx="1913.9" cy="342.6" r="9.2" fill="#f28033"/>
<circle cx="1969.6" cy="329.4" r="9.2" fill="#f28033"/>
<circle cx="1579.5" cy="430.7" r="9.2" fill="#f28033"/>
<circle cx="1635.2" cy="426.2" r="9.2" fill="#f28033"/>
<circle cx="1691.0" cy="407.7" r="9.2" fill="#f28033"/>
<circle cx="1746.7" cy="389.3" r="9.2" fill="#f28033"/>
<circle cx="1802.4" cy="369.8" r="9.2" fill="#f28033"/>
<circle cx="1858.1" cy="352.3" r="9.2" fill="#f28033"/>
<circle cx="1913.9" cy="333.8" r="9.2" fill="#f28033"/>
<circle cx="1969.6" cy="326.4" r="9.2" fill="#f28033"/>
<circle cx="1579.5" cy="430.7" r="9.2" fill="#f28033"/>
<circle cx="1635.2" cy="424.3" r="9.2" fill="#f28033"/>
<circle cx="1691.0" cy="403.8" r="9.2" fill="#f28033"/>
<circle cx="1746.7" cy="386.3" r="9.2" fill="#f28033"/>
<circle cx="1802.4" cy="365.9" r="9.2" fill="#f28033"/>
<circle cx="1858.1" cy="348.4" r="9.2" fill="#f28033"/>
<circle cx="1913.9" cy="327.8" r="9.2" fill="#f28033"/>
<circle cx="1969.6" cy="310.3" r="9.2" fill="#f28033"/>
<circle cx="1579.5" cy="430.7" r="9.2" fill="#f28033"/>
<circle cx="1635.2" cy="422.3" r="9.2" fill="#f28033"/>
<circle cx="1691.0" cy="400.9" r="9.2" fill="#f28033"/>
<circle cx="1746.7" cy="383.4" r="9.2" fill="#f28033"/>
<circle cx="1802.4" cy="363.0" r="9.2" fill="#f28033"/>
<circle cx="1858.1" cy="345.5" r="9.2" fill="#f28033"/>
<circle cx="1913.9" cy="325.1" r="9.2" fill="#f28033"/>
<circle cx="1969.6" cy="304.5" r="9.2" fill="#f28033"/>
<circle cx="1579.5" cy="430.7" r="9.2" fill="#f28033"/>
<circle cx="1635.2" cy="421.4" r="9.2" fill="#f28033"/>
<circle cx="1691.0" cy="399.6" r="9.2" fill="#f28033"/>
<circle cx="1746.7" cy="380.5" r="9.2" fill="#f28033"/>
<circle cx="1802.4" cy="360.1" r="9.2" fill="#f28033"/>
<circle cx="1858.1" cy="342.6" r="9.2" fill="#f28033"/>
<circle cx="1913.9" cy="322.0" r="9.2" fill="#f28033"/>
<circle cx="1969.6" cy="295.9" r="9.2" fill="#f28033"/>
<line x1="1131.0" y1="451.5" x2="1131.0" y2="462.5" stroke="#231f20" stroke-width="3.4"/>
<text x="1144.5" y="480.5" font-size="37" text-anchor="end" fill="#231815" transform="rotate(-45 1144.5 480.5)">0</text>
<line x1="1186.8" y1="451.5" x2="1186.8" y2="462.5" stroke="#231f20" stroke-width="3.4"/>
<text x="1200.3" y="480.5" font-size="37" text-anchor="end" fill="#231815" transform="rotate(-45 1200.3 480.5)">3</text>
<line x1="1242.6" y1="451.5" x2="1242.6" y2="462.5" stroke="#231f20" stroke-width="3.4"/>
<text x="1256.1" y="480.5" font-size="37" text-anchor="end" fill="#231815" transform="rotate(-45 1256.1 480.5)">6</text>
<line x1="1298.4" y1="451.5" x2="1298.4" y2="462.5" stroke="#231f20" stroke-width="3.4"/>
<text x="1311.9" y="480.5" font-size="37" text-anchor="end" fill="#231815" transform="rotate(-45 1311.9 480.5)">9</text>
<line x1="1354.1" y1="451.5" x2="1354.1" y2="462.5" stroke="#231f20" stroke-width="3.4"/>
<text x="1367.6" y="480.5" font-size="37" text-anchor="end" fill="#231815" transform="rotate(-45 1367.6 480.5)">12</text>
<line x1="1409.9" y1="451.5" x2="1409.9" y2="462.5" stroke="#231f20" stroke-width="3.4"/>
<text x="1423.4" y="480.5" font-size="37" text-anchor="end" fill="#231815" transform="rotate(-45 1423.4 480.5)">15</text>
<line x1="1465.7" y1="451.5" x2="1465.7" y2="462.5" stroke="#231f20" stroke-width="3.4"/>
<text x="1479.2" y="480.5" font-size="37" text-anchor="end" fill="#231815" transform="rotate(-45 1479.2 480.5)">18</text>
<line x1="1521.5" y1="451.5" x2="1521.5" y2="462.5" stroke="#231f20" stroke-width="3.4"/>
<text x="1535.0" y="480.5" font-size="37" text-anchor="end" fill="#231815" transform="rotate(-45 1535.0 480.5)">21</text>
<line x1="1579.5" y1="451.5" x2="1579.5" y2="462.5" stroke="#231f20" stroke-width="3.4"/>
<text x="1593.0" y="480.5" font-size="37" text-anchor="end" fill="#231815" transform="rotate(-45 1593.0 480.5)">0</text>
<line x1="1635.2" y1="451.5" x2="1635.2" y2="462.5" stroke="#231f20" stroke-width="3.4"/>
<text x="1648.7" y="480.5" font-size="37" text-anchor="end" fill="#231815" transform="rotate(-45 1648.7 480.5)">3</text>
<line x1="1691.0" y1="451.5" x2="1691.0" y2="462.5" stroke="#231f20" stroke-width="3.4"/>
<text x="1704.5" y="480.5" font-size="37" text-anchor="end" fill="#231815" transform="rotate(-45 1704.5 480.5)">6</text>
<line x1="1746.7" y1="451.5" x2="1746.7" y2="462.5" stroke="#231f20" stroke-width="3.4"/>
<text x="1760.2" y="480.5" font-size="37" text-anchor="end" fill="#231815" transform="rotate(-45 1760.2 480.5)">9</text>
<line x1="1802.4" y1="451.5" x2="1802.4" y2="462.5" stroke="#231f20" stroke-width="3.4"/>
<text x="1815.9" y="480.5" font-size="37" text-anchor="end" fill="#231815" transform="rotate(-45 1815.9 480.5)">12</text>
<line x1="1858.1" y1="451.5" x2="1858.1" y2="462.5" stroke="#231f20" stroke-width="3.4"/>
<text x="1871.6" y="480.5" font-size="37" text-anchor="end" fill="#231815" transform="rotate(-45 1871.6 480.5)">15</text>
<line x1="1913.9" y1="451.5" x2="1913.9" y2="462.5" stroke="#231f20" stroke-width="3.4"/>
<text x="1927.4" y="480.5" font-size="37" text-anchor="end" fill="#231815" transform="rotate(-45 1927.4 480.5)">18</text>
<line x1="1969.6" y1="451.5" x2="1969.6" y2="462.5" stroke="#231f20" stroke-width="3.4"/>
<text x="1983.1" y="480.5" font-size="37" text-anchor="end" fill="#231815" transform="rotate(-45 1983.1 480.5)">21</text>
<text x="1551.8" y="535.6" font-size="37" text-anchor="middle" fill="#231815">Day</text>
<line x1="1125.0" y1="79.5" x2="1181.0" y2="79.5" stroke="#00a651" stroke-width="5.6"/>
<circle cx="1153.0" cy="79.5" r="10.9" fill="#31b77c"/>
<text x="1191.5" y="90.5" font-size="36.5" text-anchor="start" fill="#231815">ctrl</text>
<line x1="1572.0" y1="79.5" x2="1628.5" y2="79.5" stroke="#f28033" stroke-width="5.6"/>
<circle cx="1600.2" cy="79.5" r="10.9" fill="#f28033"/>
<text x="1639.0" y="90.5" font-size="36.5" text-anchor="start" fill="#231815">anti-B7-H3</text>
<text x="0" y="0" font-size="38" fill="#231815" transform="translate(1028 403.5) rotate(-90) scale(0.9039 1)">Tumor volume (cm<tspan font-size="25" dy="-14">3</tspan><tspan dy="14">)</tspan></text>
<line x1="1100.2" y1="1299.8" x2="1100.2" y2="1687.7" stroke="#231f20" stroke-width="3.6"/>
<line x1="1088.7" y1="1686.0" x2="1100.2" y2="1686.0" stroke="#231f20" stroke-width="3.4"/>
<text x="1090.9" y="1696.8" font-size="38.5" text-anchor="end" fill="#231815">0.0</text>
<line x1="1088.7" y1="1589.9" x2="1100.2" y2="1589.9" stroke="#231f20" stroke-width="3.4"/>
<text x="1090.9" y="1600.7" font-size="38.5" text-anchor="end" fill="#231815">0.5</text>
<line x1="1088.7" y1="1493.8" x2="1100.2" y2="1493.8" stroke="#231f20" stroke-width="3.4"/>
<text x="1090.9" y="1504.6" font-size="38.5" text-anchor="end" fill="#231815">1.0</text>
<line x1="1088.7" y1="1397.6" x2="1100.2" y2="1397.6" stroke="#231f20" stroke-width="3.4"/>
<text x="1090.9" y="1408.4" font-size="38.5" text-anchor="end" fill="#231815">1.5</text>
<line x1="1088.7" y1="1301.5" x2="1100.2" y2="1301.5" stroke="#231f20" stroke-width="3.4"/>
<text x="1090.9" y="1312.3" font-size="38.5" text-anchor="end" fill="#231815">2.0</text>
<line x1="1098.5" y1="1686.0" x2="1998.0" y2="1686.0" stroke="#231f20" stroke-width="3.4"/>
<line x1="1399.7" y1="1297.5" x2="1399.7" y2="1686.0" stroke="#231f20" stroke-width="3.6"/>
<line x1="1697.7" y1="1297.5" x2="1697.7" y2="1686.0" stroke="#231f20" stroke-width="3.6"/>
<polyline points="1118.0,1665.4 1155.6,1650.2 1193.1,1616.8 1230.7,1574.5 1268.3,1548.7 1305.9,1518.4 1343.4,1494.1 1381.0,1468.4" fill="none" stroke="#31b77c" stroke-width="3.6" stroke-linejoin="round"/>
<polyline points="1118.0,1665.4 1155.6,1649.5 1193.1,1606.2 1230.7,1562.2 1268.3,1525.9 1305.9,1495.7 1343.4,1472.8 1381.0,1445.7" fill="none" stroke="#31b77c" stroke-width="3.6" stroke-linejoin="round"/>
<polyline points="1118.0,1665.4 1155.6,1647.5 1193.1,1594.1 1230.7,1559.3 1268.3,1509.1 1305.9,1483.4 1343.4,1450.1 1381.0,1432.2" fill="none" stroke="#31b77c" stroke-width="3.6" stroke-linejoin="round"/>
<polyline points="1118.0,1665.4 1155.6,1645.6 1193.1,1585.1 1230.7,1535.1 1268.3,1509.1 1305.9,1471.3 1343.4,1450.1 1381.0,1428.4" fill="none" stroke="#31b77c" stroke-width="3.6" stroke-linejoin="round"/>
<polyline points="1118.0,1665.4 1155.6,1642.7 1193.1,1578.9 1230.7,1528.9 1268.3,1502.2 1305.9,1463.8 1343.4,1441.1 1381.0,1410.7" fill="none" stroke="#31b77c" stroke-width="3.6" stroke-linejoin="round"/>
<circle cx="1118.0" cy="1665.4" r="9.2" fill="#31b77c"/>
<circle cx="1155.6" cy="1650.2" r="9.2" fill="#31b77c"/>
<circle cx="1193.1" cy="1616.8" r="9.2" fill="#31b77c"/>
<circle cx="1230.7" cy="1574.5" r="9.2" fill="#31b77c"/>
<circle cx="1268.3" cy="1548.7" r="9.2" fill="#31b77c"/>
<circle cx="1305.9" cy="1518.4" r="9.2" fill="#31b77c"/>
<circle cx="1343.4" cy="1494.1" r="9.2" fill="#31b77c"/>
<circle cx="1381.0" cy="1468.4" r="9.2" fill="#31b77c"/>
<circle cx="1118.0" cy="1665.4" r="9.2" fill="#31b77c"/>
<circle cx="1155.6" cy="1649.5" r="9.2" fill="#31b77c"/>
<circle cx="1193.1" cy="1606.2" r="9.2" fill="#31b77c"/>
<circle cx="1230.7" cy="1562.2" r="9.2" fill="#31b77c"/>
<circle cx="1268.3" cy="1525.9" r="9.2" fill="#31b77c"/>
<circle cx="1305.9" cy="1495.7" r="9.2" fill="#31b77c"/>
<circle cx="1343.4" cy="1472.8" r="9.2" fill="#31b77c"/>
<circle cx="1381.0" cy="1445.7" r="9.2" fill="#31b77c"/>
<circle cx="1118.0" cy="1665.4" r="9.2" fill="#31b77c"/>
<circle cx="1155.6" cy="1647.5" r="9.2" fill="#31b77c"/>
<circle cx="1193.1" cy="1594.1" r="9.2" fill="#31b77c"/>
<circle cx="1230.7" cy="1559.3" r="9.2" fill="#31b77c"/>
<circle cx="1268.3" cy="1509.1" r="9.2" fill="#31b77c"/>
<circle cx="1305.9" cy="1483.4" r="9.2" fill="#31b77c"/>
<circle cx="1343.4" cy="1450.1" r="9.2" fill="#31b77c"/>
<circle cx="1381.0" cy="1432.2" r="9.2" fill="#31b77c"/>
<circle cx="1118.0" cy="1665.4" r="9.2" fill="#31b77c"/>
<circle cx="1155.6" cy="1645.6" r="9.2" fill="#31b77c"/>
<circle cx="1193.1" cy="1585.1" r="9.2" fill="#31b77c"/>
<circle cx="1230.7" cy="1535.1" r="9.2" fill="#31b77c"/>
<circle cx="1268.3" cy="1509.1" r="9.2" fill="#31b77c"/>
<circle cx="1305.9" cy="1471.3" r="9.2" fill="#31b77c"/>
<circle cx="1343.4" cy="1450.1" r="9.2" fill="#31b77c"/>
<circle cx="1381.0" cy="1428.4" r="9.2" fill="#31b77c"/>
<circle cx="1118.0" cy="1665.4" r="9.2" fill="#31b77c"/>
<circle cx="1155.6" cy="1642.7" r="9.2" fill="#31b77c"/>
<circle cx="1193.1" cy="1578.9" r="9.2" fill="#31b77c"/>
<circle cx="1230.7" cy="1528.9" r="9.2" fill="#31b77c"/>
<circle cx="1268.3" cy="1502.2" r="9.2" fill="#31b77c"/>
<circle cx="1305.9" cy="1463.8" r="9.2" fill="#31b77c"/>
<circle cx="1343.4" cy="1441.1" r="9.2" fill="#31b77c"/>
<circle cx="1381.0" cy="1410.7" r="9.2" fill="#31b77c"/>
<polyline points="1417.8,1668.3 1455.1,1657.5 1492.4,1637.9 1529.7,1625.6 1566.9,1618.7 1604.2,1593.0 1641.5,1574.1 1678.8,1570.7" fill="none" stroke="#f28033" stroke-width="3.6" stroke-linejoin="round"/>
<polyline points="1417.8,1668.3 1455.1,1657.5 1492.4,1637.9 1529.7,1625.6 1566.9,1618.7 1604.2,1572.6 1641.5,1563.3 1678.8,1543.7" fill="none" stroke="#f28033" stroke-width="3.6" stroke-linejoin="round"/>
<polyline points="1417.8,1668.3 1455.1,1657.5 1492.4,1635.1 1529.7,1622.6 1566.9,1604.3 1604.2,1563.3 1641.5,1551.4 1678.8,1543.7" fill="none" stroke="#f28033" stroke-width="3.6" stroke-linejoin="round"/>
<polyline points="1417.8,1668.3 1455.1,1657.5 1492.4,1634.1 1529.7,1620.6 1566.9,1599.5 1604.2,1559.1 1641.5,1540.3 1678.8,1531.4" fill="none" stroke="#f28033" stroke-width="3.6" stroke-linejoin="round"/>
<polyline points="1417.8,1668.3 1455.1,1657.5 1492.4,1632.7 1529.7,1618.5 1566.9,1595.6 1604.2,1554.5 1641.5,1526.0 1678.8,1517.2" fill="none" stroke="#f28033" stroke-width="3.6" stroke-linejoin="round"/>
<circle cx="1417.8" cy="1668.3" r="9.2" fill="#f28033"/>
<circle cx="1455.1" cy="1657.5" r="9.2" fill="#f28033"/>
<circle cx="1492.4" cy="1637.9" r="9.2" fill="#f28033"/>
<circle cx="1529.7" cy="1625.6" r="9.2" fill="#f28033"/>
<circle cx="1566.9" cy="1618.7" r="9.2" fill="#f28033"/>
<circle cx="1604.2" cy="1593.0" r="9.2" fill="#f28033"/>
<circle cx="1641.5" cy="1574.1" r="9.2" fill="#f28033"/>
<circle cx="1678.8" cy="1570.7" r="9.2" fill="#f28033"/>
<circle cx="1417.8" cy="1668.3" r="9.2" fill="#f28033"/>
<circle cx="1455.1" cy="1657.5" r="9.2" fill="#f28033"/>
<circle cx="1492.4" cy="1637.9" r="9.2" fill="#f28033"/>
<circle cx="1529.7" cy="1625.6" r="9.2" fill="#f28033"/>
<circle cx="1566.9" cy="1618.7" r="9.2" fill="#f28033"/>
<circle cx="1604.2" cy="1572.6" r="9.2" fill="#f28033"/>
<circle cx="1641.5" cy="1563.3" r="9.2" fill="#f28033"/>
<circle cx="1678.8" cy="1543.7" r="9.2" fill="#f28033"/>
<circle cx="1417.8" cy="1668.3" r="9.2" fill="#f28033"/>
<circle cx="1455.1" cy="1657.5" r="9.2" fill="#f28033"/>
<circle cx="1492.4" cy="1635.1" r="9.2" fill="#f28033"/>
<circle cx="1529.7" cy="1622.6" r="9.2" fill="#f28033"/>
<circle cx="1566.9" cy="1604.3" r="9.2" fill="#f28033"/>
<circle cx="1604.2" cy="1563.3" r="9.2" fill="#f28033"/>
<circle cx="1641.5" cy="1551.4" r="9.2" fill="#f28033"/>
<circle cx="1678.8" cy="1543.7" r="9.2" fill="#f28033"/>
<circle cx="1417.8" cy="1668.3" r="9.2" fill="#f28033"/>
<circle cx="1455.1" cy="1657.5" r="9.2" fill="#f28033"/>
<circle cx="1492.4" cy="1634.1" r="9.2" fill="#f28033"/>
<circle cx="1529.7" cy="1620.6" r="9.2" fill="#f28033"/>
<circle cx="1566.9" cy="1599.5" r="9.2" fill="#f28033"/>
<circle cx="1604.2" cy="1559.1" r="9.2" fill="#f28033"/>
<circle cx="1641.5" cy="1540.3" r="9.2" fill="#f28033"/>
<circle cx="1678.8" cy="1531.4" r="9.2" fill="#f28033"/>
<circle cx="1417.8" cy="1668.3" r="9.2" fill="#f28033"/>
<circle cx="1455.1" cy="1657.5" r="9.2" fill="#f28033"/>
<circle cx="1492.4" cy="1632.7" r="9.2" fill="#f28033"/>
<circle cx="1529.7" cy="1618.5" r="9.2" fill="#f28033"/>
<circle cx="1566.9" cy="1595.6" r="9.2" fill="#f28033"/>
<circle cx="1604.2" cy="1554.5" r="9.2" fill="#f28033"/>
<circle cx="1641.5" cy="1526.0" r="9.2" fill="#f28033"/>
<circle cx="1678.8" cy="1517.2" r="9.2" fill="#f28033"/>
<polyline points="1716.2,1668.3 1753.5,1663.9 1790.9,1659.3 1828.2,1655.8 1865.5,1648.7 1902.8,1627.4 1940.2,1604.3 1977.5,1600.6" fill="none" stroke="#2a97ad" stroke-width="3.6" stroke-linejoin="round"/>
<polyline points="1716.2,1668.3 1753.5,1663.9 1790.9,1657.2 1828.2,1647.5 1865.5,1632.2 1902.8,1622.6 1940.2,1601.4 1977.5,1593.7" fill="none" stroke="#2a97ad" stroke-width="3.6" stroke-linejoin="round"/>
<polyline points="1716.2,1668.3 1753.5,1663.9 1790.9,1655.2 1828.2,1645.6 1865.5,1630.2 1902.8,1616.8 1940.2,1595.6 1977.5,1591.8" fill="none" stroke="#2a97ad" stroke-width="3.6" stroke-linejoin="round"/>
<polyline points="1716.2,1668.3 1753.5,1663.9 1790.9,1654.1 1828.2,1643.3 1865.5,1629.1 1902.8,1614.3 1940.2,1593.7 1977.5,1586.4" fill="none" stroke="#2a97ad" stroke-width="3.6" stroke-linejoin="round"/>
<circle cx="1716.2" cy="1668.3" r="9.2" fill="#2a97ad"/>
<circle cx="1753.5" cy="1663.9" r="9.2" fill="#2a97ad"/>
<circle cx="1790.9" cy="1659.3" r="9.2" fill="#2a97ad"/>
<circle cx="1828.2" cy="1655.8" r="9.2" fill="#2a97ad"/>
<circle cx="1865.5" cy="1648.7" r="9.2" fill="#2a97ad"/>
<circle cx="1902.8" cy="1627.4" r="9.2" fill="#2a97ad"/>
<circle cx="1940.2" cy="1604.3" r="9.2" fill="#2a97ad"/>
<circle cx="1977.5" cy="1600.6" r="9.2" fill="#2a97ad"/>
<circle cx="1716.2" cy="1668.3" r="9.2" fill="#2a97ad"/>
<circle cx="1753.5" cy="1663.9" r="9.2" fill="#2a97ad"/>
<circle cx="1790.9" cy="1657.2" r="9.2" fill="#2a97ad"/>
<circle cx="1828.2" cy="1647.5" r="9.2" fill="#2a97ad"/>
<circle cx="1865.5" cy="1632.2" r="9.2" fill="#2a97ad"/>
<circle cx="1902.8" cy="1622.6" r="9.2" fill="#2a97ad"/>
<circle cx="1940.2" cy="1601.4" r="9.2" fill="#2a97ad"/>
<circle cx="1977.5" cy="1593.7" r="9.2" fill="#2a97ad"/>
<circle cx="1716.2" cy="1668.3" r="9.2" fill="#2a97ad"/>
<circle cx="1753.5" cy="1663.9" r="9.2" fill="#2a97ad"/>
<circle cx="1790.9" cy="1655.2" r="9.2" fill="#2a97ad"/>
<circle cx="1828.2" cy="1645.6" r="9.2" fill="#2a97ad"/>
<circle cx="1865.5" cy="1630.2" r="9.2" fill="#2a97ad"/>
<circle cx="1902.8" cy="1616.8" r="9.2" fill="#2a97ad"/>
<circle cx="1940.2" cy="1595.6" r="9.2" fill="#2a97ad"/>
<circle cx="1977.5" cy="1591.8" r="9.2" fill="#2a97ad"/>
<circle cx="1716.2" cy="1668.3" r="9.2" fill="#2a97ad"/>
<circle cx="1753.5" cy="1663.9" r="9.2" fill="#2a97ad"/>
<circle cx="1790.9" cy="1654.1" r="9.2" fill="#2a97ad"/>
<circle cx="1828.2" cy="1643.3" r="9.2" fill="#2a97ad"/>
<circle cx="1865.5" cy="1629.1" r="9.2" fill="#2a97ad"/>
<circle cx="1902.8" cy="1614.3" r="9.2" fill="#2a97ad"/>
<circle cx="1940.2" cy="1593.7" r="9.2" fill="#2a97ad"/>
<circle cx="1977.5" cy="1586.4" r="9.2" fill="#2a97ad"/>
<line x1="1118.0" y1="1686.0" x2="1118.0" y2="1697.0" stroke="#231f20" stroke-width="3.4"/>
<text x="1131.5" y="1715.0" font-size="37" text-anchor="end" fill="#231815" transform="rotate(-45 1131.5 1715.0)">0</text>
<line x1="1155.6" y1="1686.0" x2="1155.6" y2="1697.0" stroke="#231f20" stroke-width="3.4"/>
<text x="1169.1" y="1715.0" font-size="37" text-anchor="end" fill="#231815" transform="rotate(-45 1169.1 1715.0)">3</text>
<line x1="1193.1" y1="1686.0" x2="1193.1" y2="1697.0" stroke="#231f20" stroke-width="3.4"/>
<text x="1206.6" y="1715.0" font-size="37" text-anchor="end" fill="#231815" transform="rotate(-45 1206.6 1715.0)">6</text>
<line x1="1230.7" y1="1686.0" x2="1230.7" y2="1697.0" stroke="#231f20" stroke-width="3.4"/>
<text x="1244.2" y="1715.0" font-size="37" text-anchor="end" fill="#231815" transform="rotate(-45 1244.2 1715.0)">9</text>
<line x1="1268.3" y1="1686.0" x2="1268.3" y2="1697.0" stroke="#231f20" stroke-width="3.4"/>
<text x="1281.8" y="1715.0" font-size="37" text-anchor="end" fill="#231815" transform="rotate(-45 1281.8 1715.0)">12</text>
<line x1="1305.9" y1="1686.0" x2="1305.9" y2="1697.0" stroke="#231f20" stroke-width="3.4"/>
<text x="1319.4" y="1715.0" font-size="37" text-anchor="end" fill="#231815" transform="rotate(-45 1319.4 1715.0)">15</text>
<line x1="1343.4" y1="1686.0" x2="1343.4" y2="1697.0" stroke="#231f20" stroke-width="3.4"/>
<text x="1356.9" y="1715.0" font-size="37" text-anchor="end" fill="#231815" transform="rotate(-45 1356.9 1715.0)">18</text>
<line x1="1381.0" y1="1686.0" x2="1381.0" y2="1697.0" stroke="#231f20" stroke-width="3.4"/>
<text x="1394.5" y="1715.0" font-size="37" text-anchor="end" fill="#231815" transform="rotate(-45 1394.5 1715.0)">21</text>
<line x1="1417.8" y1="1686.0" x2="1417.8" y2="1697.0" stroke="#231f20" stroke-width="3.4"/>
<text x="1431.3" y="1715.0" font-size="37" text-anchor="end" fill="#231815" transform="rotate(-45 1431.3 1715.0)">0</text>
<line x1="1455.1" y1="1686.0" x2="1455.1" y2="1697.0" stroke="#231f20" stroke-width="3.4"/>
<text x="1468.6" y="1715.0" font-size="37" text-anchor="end" fill="#231815" transform="rotate(-45 1468.6 1715.0)">3</text>
<line x1="1492.4" y1="1686.0" x2="1492.4" y2="1697.0" stroke="#231f20" stroke-width="3.4"/>
<text x="1505.9" y="1715.0" font-size="37" text-anchor="end" fill="#231815" transform="rotate(-45 1505.9 1715.0)">6</text>
<line x1="1529.7" y1="1686.0" x2="1529.7" y2="1697.0" stroke="#231f20" stroke-width="3.4"/>
<text x="1543.2" y="1715.0" font-size="37" text-anchor="end" fill="#231815" transform="rotate(-45 1543.2 1715.0)">9</text>
<line x1="1566.9" y1="1686.0" x2="1566.9" y2="1697.0" stroke="#231f20" stroke-width="3.4"/>
<text x="1580.4" y="1715.0" font-size="37" text-anchor="end" fill="#231815" transform="rotate(-45 1580.4 1715.0)">12</text>
<line x1="1604.2" y1="1686.0" x2="1604.2" y2="1697.0" stroke="#231f20" stroke-width="3.4"/>
<text x="1617.7" y="1715.0" font-size="37" text-anchor="end" fill="#231815" transform="rotate(-45 1617.7 1715.0)">15</text>
<line x1="1641.5" y1="1686.0" x2="1641.5" y2="1697.0" stroke="#231f20" stroke-width="3.4"/>
<text x="1655.0" y="1715.0" font-size="37" text-anchor="end" fill="#231815" transform="rotate(-45 1655.0 1715.0)">18</text>
<line x1="1678.8" y1="1686.0" x2="1678.8" y2="1697.0" stroke="#231f20" stroke-width="3.4"/>
<text x="1692.3" y="1715.0" font-size="37" text-anchor="end" fill="#231815" transform="rotate(-45 1692.3 1715.0)">21</text>
<line x1="1716.2" y1="1686.0" x2="1716.2" y2="1697.0" stroke="#231f20" stroke-width="3.4"/>
<text x="1729.7" y="1715.0" font-size="37" text-anchor="end" fill="#231815" transform="rotate(-45 1729.7 1715.0)">0</text>
<line x1="1753.5" y1="1686.0" x2="1753.5" y2="1697.0" stroke="#231f20" stroke-width="3.4"/>
<text x="1767.0" y="1715.0" font-size="37" text-anchor="end" fill="#231815" transform="rotate(-45 1767.0 1715.0)">3</text>
<line x1="1790.9" y1="1686.0" x2="1790.9" y2="1697.0" stroke="#231f20" stroke-width="3.4"/>
<text x="1804.4" y="1715.0" font-size="37" text-anchor="end" fill="#231815" transform="rotate(-45 1804.4 1715.0)">6</text>
<line x1="1828.2" y1="1686.0" x2="1828.2" y2="1697.0" stroke="#231f20" stroke-width="3.4"/>
<text x="1841.7" y="1715.0" font-size="37" text-anchor="end" fill="#231815" transform="rotate(-45 1841.7 1715.0)">9</text>
<line x1="1865.5" y1="1686.0" x2="1865.5" y2="1697.0" stroke="#231f20" stroke-width="3.4"/>
<text x="1879.0" y="1715.0" font-size="37" text-anchor="end" fill="#231815" transform="rotate(-45 1879.0 1715.0)">12</text>
<line x1="1902.8" y1="1686.0" x2="1902.8" y2="1697.0" stroke="#231f20" stroke-width="3.4"/>
<text x="1916.3" y="1715.0" font-size="37" text-anchor="end" fill="#231815" transform="rotate(-45 1916.3 1715.0)">15</text>
<line x1="1940.2" y1="1686.0" x2="1940.2" y2="1697.0" stroke="#231f20" stroke-width="3.4"/>
<text x="1953.7" y="1715.0" font-size="37" text-anchor="end" fill="#231815" transform="rotate(-45 1953.7 1715.0)">18</text>
<line x1="1977.5" y1="1686.0" x2="1977.5" y2="1697.0" stroke="#231f20" stroke-width="3.4"/>
<text x="1991.0" y="1715.0" font-size="37" text-anchor="end" fill="#231815" transform="rotate(-45 1991.0 1715.0)">21</text>
<text x="1551.0" y="1771.0" font-size="37" text-anchor="middle" fill="#231815">Day</text>
<line x1="1115.6" y1="1320.5" x2="1172.7" y2="1320.5" stroke="#00a651" stroke-width="5.6"/>
<circle cx="1144.2" cy="1320.5" r="10.9" fill="#31b77c"/>
<text x="1183.2" y="1331.5" font-size="36.5" text-anchor="start" fill="#231815">ctrl</text>
<line x1="1421.4" y1="1321.3" x2="1477.3" y2="1321.3" stroke="#f28033" stroke-width="5.6"/>
<circle cx="1449.3" cy="1321.3" r="10.9" fill="#f28033"/>
<text x="1487.8" y="1332.3" font-size="35.8" text-anchor="start" fill="#231815">anti-PD-1</text>
<line x1="1719.8" y1="1321.3" x2="1776.8" y2="1321.3" stroke="#2a97ad" stroke-width="5.6"/>
<circle cx="1748.3" cy="1321.3" r="10.9" fill="#2a97ad"/>
<text x="1787.3" y="1332.3" font-size="36.2" text-anchor="start" fill="#231815">anti-B7-H3+</text>
<text x="1787.0" y="1368.3" font-size="35.8" text-anchor="start" fill="#231815">anti-PD-1</text>
<text x="0" y="0" font-size="38" fill="#231815" transform="translate(1027.9 1644.4) rotate(-90) scale(0.9244 1)">Tumor volume (cm<tspan font-size="25" dy="-14">3</tspan><tspan dy="14">)</tspan></text>
<line x1="805.0" y1="668.6" x2="805.0" y2="1099.8" stroke="#231f20" stroke-width="3.6"/>
<line x1="793.5" y1="1098.0" x2="805.0" y2="1098.0" stroke="#231f20" stroke-width="3.4"/>
<text x="792.3" y="1110.0" font-size="38.5" text-anchor="end" fill="#231815">0.0</text>
<line x1="793.5" y1="991.1" x2="805.0" y2="991.1" stroke="#231f20" stroke-width="3.4"/>
<text x="792.3" y="1003.0" font-size="38.5" text-anchor="end" fill="#231815">0.5</text>
<line x1="793.5" y1="884.2" x2="805.0" y2="884.2" stroke="#231f20" stroke-width="3.4"/>
<text x="792.3" y="896.1" font-size="38.5" text-anchor="end" fill="#231815">1.0</text>
<line x1="793.5" y1="777.2" x2="805.0" y2="777.2" stroke="#231f20" stroke-width="3.4"/>
<text x="792.3" y="789.1" font-size="38.5" text-anchor="end" fill="#231815">1.5</text>
<line x1="793.5" y1="670.3" x2="805.0" y2="670.3" stroke="#231f20" stroke-width="3.4"/>
<text x="792.3" y="682.2" font-size="38.5" text-anchor="end" fill="#231815">2.0</text>
<line x1="803.3" y1="1098.0" x2="1167.5" y2="1098.0" stroke="#231f20" stroke-width="3.4"/>
<line x1="895.1" y1="1098.0" x2="895.1" y2="1109.0" stroke="#231f20" stroke-width="3.4"/>
<line x1="1075.0" y1="1098.0" x2="1075.0" y2="1109.0" stroke="#231f20" stroke-width="3.4"/>
<circle cx="882.5" cy="720.4" r="10.4" fill="#31b77c"/>
<circle cx="907.7" cy="710.9" r="10.4" fill="#31b77c"/>
<circle cx="882.5" cy="762.0" r="10.4" fill="#31b77c"/>
<circle cx="907.7" cy="771.5" r="10.4" fill="#31b77c"/>
<circle cx="895.1" cy="811.0" r="10.4" fill="#31b77c"/>
<circle cx="1075.0" cy="882.0" r="10.4" fill="#f28033"/>
<circle cx="1075.0" cy="912.0" r="10.4" fill="#f28033"/>
<circle cx="1049.8" cy="933.4" r="10.4" fill="#f28033"/>
<circle cx="1100.3" cy="942.0" r="10.4" fill="#f28033"/>
<circle cx="1075.0" cy="948.2" r="10.4" fill="#f28033"/>
<line x1="835.1" y1="755.2" x2="955.1" y2="755.2" stroke="#231f20" stroke-width="3.4"/>
<line x1="865.1" y1="714.1" x2="925.1" y2="714.1" stroke="#231f20" stroke-width="3.4"/>
<line x1="865.1" y1="795.8" x2="925.1" y2="795.8" stroke="#231f20" stroke-width="3.4"/>
<line x1="895.1" y1="714.1" x2="895.1" y2="795.8" stroke="#231f20" stroke-width="3.4"/>
<line x1="1015.0" y1="923.6" x2="1135.0" y2="923.6" stroke="#231f20" stroke-width="3.4"/>
<line x1="1045.0" y1="896.0" x2="1105.0" y2="896.0" stroke="#231f20" stroke-width="3.4"/>
<line x1="1045.0" y1="950.8" x2="1105.0" y2="950.8" stroke="#231f20" stroke-width="3.4"/>
<line x1="1075.0" y1="896.0" x2="1075.0" y2="950.8" stroke="#231f20" stroke-width="3.4"/>
<line x1="896.7" y1="690.7" x2="1075.0" y2="690.7" stroke="#231f20" stroke-width="3.4"/>
<text x="965.1" y="692.9" font-size="43.5" font-weight="bold" text-anchor="middle" fill="#231815">*</text>
<text x="985.2" y="692.9" font-size="43.5" font-weight="bold" text-anchor="middle" fill="#231815">*</text>
<text x="1005.4" y="692.9" font-size="43.5" font-weight="bold" text-anchor="middle" fill="#231815">*</text>
<text x="894.5" y="1143.0" font-size="37" text-anchor="middle" fill="#231815">ctrl</text>
<text x="1076.0" y="1147.3" font-size="37.4" text-anchor="middle" fill="#231815">anti-B7-H3</text>
<text x="0" y="0" font-size="38" fill="#231815" transform="translate(724.5 1007.8) rotate(-90) scale(0.9116 1)">Tumor weight (g)</text>
<line x1="804.3" y1="1890.2" x2="804.3" y2="2323.4" stroke="#231f20" stroke-width="3.6"/>
<line x1="792.8" y1="2321.7" x2="804.3" y2="2321.7" stroke="#231f20" stroke-width="3.4"/>
<text x="787.6" y="2333.5" font-size="38.5" text-anchor="end" fill="#231815">0.0</text>
<line x1="792.8" y1="2214.2" x2="804.3" y2="2214.2" stroke="#231f20" stroke-width="3.4"/>
<text x="787.6" y="2226.1" font-size="38.5" text-anchor="end" fill="#231815">0.5</text>
<line x1="792.8" y1="2106.8" x2="804.3" y2="2106.8" stroke="#231f20" stroke-width="3.4"/>
<text x="787.6" y="2118.6" font-size="38.5" text-anchor="end" fill="#231815">1.0</text>
<line x1="792.8" y1="1999.3" x2="804.3" y2="1999.3" stroke="#231f20" stroke-width="3.4"/>
<text x="787.6" y="2011.2" font-size="38.5" text-anchor="end" fill="#231815">1.5</text>
<line x1="792.8" y1="1891.9" x2="804.3" y2="1891.9" stroke="#231f20" stroke-width="3.4"/>
<text x="787.6" y="1903.7" font-size="38.5" text-anchor="end" fill="#231815">2.0</text>
<line x1="802.6" y1="2321.7" x2="1171.3" y2="2321.7" stroke="#231f20" stroke-width="3.4"/>
<line x1="865.1" y1="2321.7" x2="865.1" y2="2333.0" stroke="#231f20" stroke-width="3.4"/>
<line x1="986.7" y1="2321.7" x2="986.7" y2="2333.0" stroke="#231f20" stroke-width="3.4"/>
<line x1="1108.2" y1="2321.7" x2="1108.2" y2="2333.0" stroke="#231f20" stroke-width="3.4"/>
<circle cx="877.8" cy="1975.6" r="10.4" fill="#31b77c"/>
<circle cx="840.5" cy="1996.8" r="10.4" fill="#31b77c"/>
<circle cx="851.9" cy="2000.9" r="10.4" fill="#31b77c"/>
<circle cx="877.8" cy="2026.7" r="10.4" fill="#31b77c"/>
<circle cx="865.1" cy="2059.2" r="10.4" fill="#31b77c"/>
<circle cx="986.7" cy="2037.8" r="10.4" fill="#f28033"/>
<circle cx="986.7" cy="2102.5" r="10.4" fill="#f28033"/>
<circle cx="962.0" cy="2115.1" r="10.4" fill="#f28033"/>
<circle cx="1011.3" cy="2117.6" r="10.4" fill="#f28033"/>
<circle cx="986.7" cy="2129.3" r="10.4" fill="#f28033"/>
<circle cx="1133.4" cy="2164.7" r="10.4" fill="#2a97ad"/>
<circle cx="1083.5" cy="2188.3" r="10.4" fill="#2a97ad"/>
<circle cx="1108.2" cy="2189.9" r="10.4" fill="#2a97ad"/>
<circle cx="1120.8" cy="2222.4" r="10.4" fill="#2a97ad"/>
<circle cx="1096.2" cy="2232.8" r="10.4" fill="#2a97ad"/>
<line x1="824.7" y1="2011.9" x2="905.5" y2="2011.9" stroke="#231f20" stroke-width="3.4"/>
<line x1="845.6" y1="1979.4" x2="884.6" y2="1979.4" stroke="#231f20" stroke-width="3.4"/>
<line x1="845.6" y1="2044.1" x2="884.6" y2="2044.1" stroke="#231f20" stroke-width="3.4"/>
<line x1="865.1" y1="1979.4" x2="865.1" y2="2044.1" stroke="#231f20" stroke-width="3.4"/>
<line x1="946.5" y1="2100.9" x2="1026.9" y2="2100.9" stroke="#231f20" stroke-width="3.4"/>
<line x1="967.3" y1="2064.6" x2="1006.1" y2="2064.6" stroke="#231f20" stroke-width="3.4"/>
<line x1="967.3" y1="2137.2" x2="1006.1" y2="2137.2" stroke="#231f20" stroke-width="3.4"/>
<line x1="986.7" y1="2064.6" x2="986.7" y2="2137.2" stroke="#231f20" stroke-width="3.4"/>
<line x1="1068.6" y1="2199.7" x2="1149.2" y2="2199.7" stroke="#231f20" stroke-width="3.4"/>
<line x1="1089.2" y1="2171.9" x2="1128.6" y2="2171.9" stroke="#231f20" stroke-width="3.4"/>
<line x1="1089.2" y1="2227.1" x2="1128.6" y2="2227.1" stroke="#231f20" stroke-width="3.4"/>
<line x1="1108.9" y1="2171.9" x2="1108.9" y2="2227.1" stroke="#231f20" stroke-width="3.4"/>
<line x1="864.5" y1="1952.1" x2="984.4" y2="1952.1" stroke="#231f20" stroke-width="3.4"/>
<text x="912.2" y="1957.9" font-size="43.5" font-weight="bold" text-anchor="middle" fill="#231815">*</text>
<text x="932.3" y="1957.9" font-size="43.5" font-weight="bold" text-anchor="middle" fill="#231815">*</text>
<line x1="989.2" y1="2010.6" x2="1108.8" y2="2010.6" stroke="#231f20" stroke-width="3.4"/>
<text x="1036.5" y="2017.0" font-size="43.5" font-weight="bold" text-anchor="middle" fill="#231815">*</text>
<text x="1056.6" y="2017.0" font-size="43.5" font-weight="bold" text-anchor="middle" fill="#231815">*</text>
<text x="0" y="0" font-size="38" fill="#231815" transform="translate(723.8 2229.2) rotate(-90) scale(0.9092 1)">Tumor weight (g)</text>
<text x="873.0" y="2352.0" font-size="36" text-anchor="end" fill="#231815" transform="rotate(-45 873.0 2352.0)">ctrl</text>
<text x="993.0" y="2354.0" font-size="36" text-anchor="end" fill="#231815" transform="rotate(-45 993.0 2354.0)">anti-PD-1</text>
<text x="1104.0" y="2349.0" font-size="36" text-anchor="end" fill="#231815" transform="rotate(-45 1104.0 2349.0)">anti-B7-H3+</text>
<text x="1131.0" y="2375.0" font-size="36" text-anchor="end" fill="#231815" transform="rotate(-45 1131.0 2375.0)">anti-PD-1</text>
<line x1="1374.9" y1="1890.3" x2="1374.9" y2="2324.1" stroke="#231f20" stroke-width="3.6"/>
<line x1="1363.1" y1="2322.4" x2="1374.9" y2="2322.4" stroke="#231f20" stroke-width="3.4"/>
<text x="1357.4" y="2335.4" font-size="32" text-anchor="end" fill="#231815">0</text>
<line x1="1363.1" y1="2178.9" x2="1374.9" y2="2178.9" stroke="#231f20" stroke-width="3.4"/>
<text x="1357.4" y="2191.9" font-size="32" text-anchor="end" fill="#231815">20</text>
<line x1="1363.1" y1="2035.5" x2="1374.9" y2="2035.5" stroke="#231f20" stroke-width="3.4"/>
<text x="1357.4" y="2048.5" font-size="32" text-anchor="end" fill="#231815">40</text>
<line x1="1363.1" y1="1892.0" x2="1374.9" y2="1892.0" stroke="#231f20" stroke-width="3.4"/>
<text x="1357.4" y="1905.0" font-size="32" text-anchor="end" fill="#231815">60</text>
<line x1="1373.2" y1="2322.4" x2="1833.0" y2="2322.4" stroke="#231f20" stroke-width="3.4"/>
<line x1="1431.7" y1="2322.4" x2="1431.7" y2="2334.2" stroke="#231f20" stroke-width="3.4"/>
<line x1="1545.2" y1="2322.4" x2="1545.2" y2="2334.2" stroke="#231f20" stroke-width="3.4"/>
<line x1="1659.6" y1="2322.4" x2="1659.6" y2="2334.2" stroke="#231f20" stroke-width="3.4"/>
<line x1="1773.5" y1="2322.4" x2="1773.5" y2="2334.2" stroke="#231f20" stroke-width="3.4"/>
<circle cx="1419.1" cy="2012.3" r="11" fill="#f28033"/>
<circle cx="1444.6" cy="2027.2" r="11" fill="#f28033"/>
<circle cx="1431.7" cy="2066.3" r="11" fill="#f28033"/>
<circle cx="1407.0" cy="2105.1" r="11" fill="#f28033"/>
<circle cx="1431.7" cy="2105.1" r="11" fill="#f28033"/>
<circle cx="1457.1" cy="2097.3" r="11" fill="#f28033"/>
<circle cx="1431.7" cy="2155.2" r="11" fill="#f28033"/>
<circle cx="1419.1" cy="2192.4" r="11" fill="#f28033"/>
<circle cx="1407.0" cy="2202.2" r="11" fill="#f28033"/>
<circle cx="1444.6" cy="2200.3" r="11" fill="#f28033"/>
<circle cx="1457.1" cy="2215.9" r="11" fill="#f28033"/>
<circle cx="1431.7" cy="2227.7" r="11" fill="#f28033"/>
<circle cx="1546.0" cy="2091.8" r="11" fill="#31b77c"/>
<circle cx="1558.2" cy="2121.2" r="11" fill="#31b77c"/>
<circle cx="1533.5" cy="2140.7" r="11" fill="#31b77c"/>
<circle cx="1570.7" cy="2231.6" r="11" fill="#31b77c"/>
<circle cx="1521.0" cy="2247.3" r="11" fill="#31b77c"/>
<circle cx="1546.0" cy="2253.9" r="11" fill="#31b77c"/>
<circle cx="1521.0" cy="2280.5" r="11" fill="#31b77c"/>
<circle cx="1570.7" cy="2284.5" r="11" fill="#31b77c"/>
<circle cx="1546.0" cy="2294.2" r="11" fill="#31b77c"/>
<circle cx="1659.6" cy="2175.6" r="11" fill="#f28033"/>
<circle cx="1659.6" cy="2226.5" r="11" fill="#f28033"/>
<circle cx="1630.2" cy="2258.2" r="11" fill="#f28033"/>
<circle cx="1688.2" cy="2261.7" r="11" fill="#f28033"/>
<circle cx="1649.8" cy="2264.9" r="11" fill="#f28033"/>
<circle cx="1669.4" cy="2271.5" r="11" fill="#f28033"/>
<circle cx="1645.1" cy="2306.0" r="11" fill="#f28033"/>
<circle cx="1669.4" cy="2304.0" r="11" fill="#f28033"/>
<circle cx="1680.3" cy="2306.0" r="11" fill="#f28033"/>
<circle cx="1638.0" cy="2307.9" r="11" fill="#f28033"/>
<circle cx="1652.9" cy="2314.6" r="11" fill="#f28033"/>
<circle cx="1773.5" cy="1962.2" r="11" fill="#31b77c"/>
<circle cx="1773.5" cy="1996.6" r="11" fill="#31b77c"/>
<circle cx="1773.5" cy="2143.5" r="11" fill="#31b77c"/>
<circle cx="1773.5" cy="2170.1" r="11" fill="#31b77c"/>
<circle cx="1748.9" cy="2231.6" r="11" fill="#31b77c"/>
<circle cx="1773.5" cy="2231.6" r="11" fill="#31b77c"/>
<circle cx="1797.8" cy="2225.7" r="11" fill="#31b77c"/>
<circle cx="1786.1" cy="2241.4" r="11" fill="#31b77c"/>
<circle cx="1761.4" cy="2262.9" r="11" fill="#31b77c"/>
<line x1="1394.5" y1="2133.7" x2="1469.7" y2="2133.7" stroke="#231f20" stroke-width="3.4"/>
<line x1="1413.3" y1="2058.5" x2="1451.2" y2="2058.5" stroke="#231f20" stroke-width="3.4"/>
<line x1="1413.3" y1="2208.9" x2="1451.2" y2="2208.9" stroke="#231f20" stroke-width="3.4"/>
<line x1="1431.7" y1="2058.5" x2="1431.7" y2="2208.9" stroke="#231f20" stroke-width="3.4"/>
<line x1="1508.0" y1="2216.7" x2="1583.6" y2="2216.7" stroke="#231f20" stroke-width="3.4"/>
<line x1="1527.6" y1="2138.8" x2="1564.8" y2="2138.8" stroke="#231f20" stroke-width="3.4"/>
<line x1="1527.6" y1="2293.5" x2="1564.8" y2="2293.5" stroke="#231f20" stroke-width="3.4"/>
<line x1="1545.2" y1="2138.8" x2="1545.2" y2="2293.5" stroke="#231f20" stroke-width="3.4"/>
<line x1="1621.6" y1="2275.8" x2="1697.2" y2="2275.8" stroke="#231f20" stroke-width="3.4"/>
<line x1="1641.2" y1="2233.5" x2="1678.4" y2="2233.5" stroke="#231f20" stroke-width="3.4"/>
<line x1="1641.2" y1="2318.5" x2="1678.4" y2="2318.5" stroke="#231f20" stroke-width="3.4"/>
<line x1="1659.6" y1="2233.5" x2="1659.6" y2="2318.5" stroke="#231f20" stroke-width="3.4"/>
<line x1="1736.0" y1="2163.0" x2="1811.5" y2="2163.0" stroke="#231f20" stroke-width="3.4"/>
<line x1="1754.7" y1="2052.6" x2="1792.7" y2="2052.6" stroke="#231f20" stroke-width="3.4"/>
<line x1="1754.7" y1="2273.9" x2="1792.7" y2="2273.9" stroke="#231f20" stroke-width="3.4"/>
<line x1="1773.5" y1="2052.6" x2="1773.5" y2="2273.9" stroke="#231f20" stroke-width="3.4"/>
<line x1="1432.8" y1="2000.5" x2="1546.0" y2="2000.5" stroke="#231f20" stroke-width="3.4"/>
<text x="1489.0" y="2005.0" font-size="43.5" font-weight="bold" text-anchor="middle" fill="#231815">*</text>
<line x1="1660.7" y1="1936.9" x2="1773.5" y2="1936.9" stroke="#231f20" stroke-width="3.4"/>
<text x="1708.8" y="1942.6" font-size="43.5" font-weight="bold" text-anchor="middle" fill="#231815">*</text>
<text x="1728.8" y="1942.6" font-size="43.5" font-weight="bold" text-anchor="middle" fill="#231815">*</text>
<text x="0" y="0" font-size="37.5" fill="#231815" transform="translate(1308 2372.4) rotate(-90) scale(0.9737 1)">B7-H3/PD-L1 mRNA expression</text>
<text x="1437.7" y="2353.0" font-size="37" text-anchor="end" fill="#231815" transform="rotate(-45 1437.7 2353.0)">resistant</text>
<text x="1551.2" y="2353.0" font-size="37" text-anchor="end" fill="#231815" transform="rotate(-45 1551.2 2353.0)">high</text>
<text x="1665.6" y="2353.0" font-size="37" text-anchor="end" fill="#231815" transform="rotate(-45 1665.6 2353.0)">resistant</text>
<text x="1779.5" y="2353.0" font-size="37" text-anchor="end" fill="#231815" transform="rotate(-45 1779.5 2353.0)">high</text>
<rect x="19.3" y="747.4" width="629.7" height="270.0" fill="#dbdddf"/>
<ellipse cx="74.2" cy="793.7" rx="39.7" ry="38.7" fill="#8d9095" opacity="0.35" filter="url(#shblur)"/>
<path d="M107.7,796.7 C107.5,798.5 107.2,800.2 107.2,802.0 C107.1,803.8 107.2,805.7 107.3,807.7 C107.3,809.7 107.7,812.1 107.3,814.2 C107.0,816.3 106.2,818.4 105.2,820.3 C104.1,822.2 102.7,824.1 101.1,825.5 C99.4,826.9 97.3,828.0 95.3,828.9 C93.3,829.8 91.0,830.1 88.9,830.7 C86.8,831.4 84.9,832.1 82.7,832.8 C80.6,833.4 78.4,834.6 76.2,834.8 C74.0,835.0 71.6,834.6 69.5,833.8 C67.4,833.0 65.5,831.4 63.7,830.0 C62.0,828.6 60.5,827.0 59.1,825.5 C57.6,824.1 56.3,822.7 54.9,821.4 C53.5,820.0 51.8,819.0 50.6,817.6 C49.3,816.2 48.5,814.4 47.4,812.8 C46.4,811.3 45.1,809.7 44.2,808.0 C43.3,806.3 42.6,804.5 41.9,802.6 C41.2,800.7 40.5,798.7 40.2,796.7 C39.9,794.7 39.7,792.5 39.9,790.5 C40.2,788.5 40.7,786.3 41.8,784.5 C42.8,782.7 44.7,781.3 46.1,779.8 C47.5,778.3 48.8,776.9 50.0,775.4 C51.3,773.8 52.5,772.3 53.7,770.7 C55.0,769.0 56.1,767.0 57.7,765.5 C59.3,764.1 61.2,762.7 63.2,761.9 C65.2,761.1 67.5,761.0 69.7,760.8 C71.9,760.7 74.1,760.7 76.2,760.9 C78.3,761.2 80.4,761.8 82.5,762.1 C84.6,762.4 86.8,762.3 88.9,762.7 C91.1,763.1 93.4,763.4 95.4,764.4 C97.3,765.4 99.1,766.9 100.6,768.5 C102.0,770.1 103.1,772.1 104.0,774.0 C105.0,775.9 105.8,777.8 106.4,779.7 C107.0,781.7 107.4,783.6 107.7,785.6 C108.0,787.5 108.0,789.4 108.0,791.3 C108.0,793.1 107.8,794.9 107.7,796.7Z" fill="url(#tg1)" filter="url(#mottle1)"/>
<ellipse cx="194.7" cy="796.6" rx="42.5" ry="37.8" fill="#8d9095" opacity="0.35" filter="url(#shblur)"/>
<path d="M234.1,799.6 C233.2,801.5 231.7,803.2 230.9,804.9 C230.1,806.6 229.6,808.2 229.1,809.9 C228.5,811.7 228.4,813.6 227.7,815.3 C226.9,817.0 225.8,818.6 224.5,820.1 C223.2,821.5 221.7,822.9 220.1,824.0 C218.4,825.1 216.5,825.9 214.6,826.9 C212.8,827.8 211.1,828.7 209.2,829.7 C207.3,830.8 205.6,832.3 203.5,833.3 C201.4,834.2 199.1,835.0 196.7,835.5 C194.3,836.0 191.7,836.5 189.3,836.3 C186.9,836.0 184.7,834.9 182.4,834.1 C180.1,833.3 177.7,832.7 175.6,831.6 C173.6,830.5 171.6,829.0 170.0,827.4 C168.5,825.9 167.0,824.0 166.1,822.1 C165.2,820.2 165.0,817.9 164.5,815.9 C164.0,813.9 163.7,812.1 163.2,810.3 C162.6,808.5 162.0,806.9 161.3,805.1 C160.6,803.3 159.5,801.5 159.0,799.6 C158.6,797.7 158.4,795.6 158.7,793.7 C158.9,791.8 159.5,789.7 160.5,788.1 C161.6,786.4 163.8,785.1 165.2,783.6 C166.6,782.2 167.7,780.7 169.0,779.2 C170.2,777.6 171.1,775.9 172.5,774.3 C173.9,772.8 175.3,771.0 177.1,769.8 C178.9,768.6 181.1,767.7 183.2,767.2 C185.4,766.6 187.8,766.7 190.1,766.6 C192.3,766.5 194.5,766.5 196.7,766.4 C198.9,766.4 201.2,766.2 203.4,766.4 C205.6,766.5 207.9,766.8 210.1,767.4 C212.2,768.0 214.3,768.9 216.4,769.8 C218.4,770.6 220.7,771.4 222.6,772.5 C224.5,773.7 226.1,775.2 227.9,776.7 C229.6,778.1 231.4,779.6 232.9,781.3 C234.4,783.0 236.2,784.8 236.8,786.8 C237.3,788.8 236.7,791.4 236.2,793.5 C235.8,795.6 235.0,797.7 234.1,799.6Z" fill="url(#tg2)" filter="url(#mottle2)"/>
<ellipse cx="345.2" cy="797.6" rx="42.5" ry="38.7" fill="#8d9095" opacity="0.35" filter="url(#shblur)"/>
<path d="M385.2,800.6 C385.1,802.6 385.5,804.7 384.8,806.6 C384.1,808.4 382.4,810.1 381.1,811.7 C379.9,813.3 378.6,814.8 377.2,816.2 C375.9,817.6 374.4,818.8 373.1,820.2 C371.8,821.6 370.7,822.8 369.6,824.6 C368.5,826.4 368.0,829.1 366.5,830.8 C365.1,832.6 363.2,834.1 361.1,835.1 C359.1,836.1 356.6,836.6 354.3,837.0 C352.0,837.4 349.6,837.7 347.2,837.6 C344.8,837.5 342.6,836.6 340.2,836.3 C337.9,836.0 335.4,836.2 333.0,835.7 C330.7,835.3 328.2,834.7 326.1,833.6 C324.0,832.5 322.1,830.9 320.5,829.3 C318.9,827.6 317.6,825.7 316.7,823.7 C315.8,821.7 315.6,819.3 315.0,817.4 C314.4,815.4 313.3,813.7 312.8,811.9 C312.4,810.0 312.5,808.0 312.4,806.1 C312.3,804.3 311.9,802.4 312.0,800.6 C312.1,798.8 312.7,797.0 313.0,795.2 C313.2,793.3 313.5,791.6 313.5,789.6 C313.6,787.5 312.9,785.1 313.4,783.0 C313.9,781.0 315.0,779.0 316.3,777.2 C317.6,775.5 319.2,773.8 321.1,772.6 C323.0,771.4 325.6,770.9 327.8,770.3 C330.0,769.6 332.3,769.5 334.4,768.9 C336.5,768.3 338.4,767.4 340.6,766.6 C342.7,765.9 344.9,764.8 347.2,764.5 C349.5,764.1 352.0,764.2 354.2,764.6 C356.5,765.1 358.6,766.2 360.7,767.1 C362.8,768.0 365.0,768.8 366.8,770.0 C368.7,771.2 370.2,772.8 371.9,774.1 C373.6,775.5 375.5,776.6 377.0,778.0 C378.6,779.5 380.2,781.1 381.3,782.8 C382.5,784.6 383.4,786.6 384.1,788.5 C384.8,790.4 385.3,792.5 385.5,794.5 C385.7,796.5 385.3,798.6 385.2,800.6Z" fill="url(#tg3)" filter="url(#mottle1)"/>
<ellipse cx="475.4" cy="798.6" rx="37.8" ry="35.9" fill="#8d9095" opacity="0.35" filter="url(#shblur)"/>
<path d="M510.3,801.6 C510.6,803.4 510.8,805.3 510.7,807.1 C510.6,809.0 510.5,811.0 509.8,812.7 C509.1,814.4 507.6,815.9 506.3,817.4 C505.1,818.8 503.7,820.0 502.5,821.4 C501.2,822.8 500.2,824.4 498.9,825.8 C497.6,827.2 496.4,828.8 494.8,830.1 C493.3,831.3 491.5,832.5 489.6,833.2 C487.7,833.9 485.5,834.1 483.5,834.2 C481.5,834.2 479.4,833.6 477.4,833.4 C475.4,833.2 473.5,833.0 471.6,832.7 C469.6,832.5 467.7,832.3 465.7,832.0 C463.7,831.6 461.5,831.4 459.6,830.7 C457.6,830.1 455.5,829.3 453.9,828.0 C452.4,826.7 451.4,824.7 450.3,823.0 C449.3,821.3 448.3,819.6 447.7,817.8 C447.0,816.0 446.6,814.1 446.2,812.3 C445.9,810.5 445.8,808.6 445.8,806.9 C445.9,805.1 446.0,803.3 446.4,801.6 C446.7,799.9 447.5,798.3 447.9,796.7 C448.4,795.1 448.6,793.5 448.9,791.8 C449.1,790.1 449.3,788.3 449.7,786.5 C450.1,784.7 450.6,782.8 451.5,781.1 C452.4,779.4 453.6,777.8 455.0,776.4 C456.4,775.1 458.3,774.1 460.0,773.2 C461.8,772.2 463.6,771.5 465.5,770.8 C467.4,770.0 469.2,769.3 471.2,768.5 C473.2,767.7 475.3,766.4 477.4,766.0 C479.5,765.6 481.9,765.6 484.0,766.2 C486.1,766.8 488.1,768.2 489.8,769.5 C491.5,770.8 492.9,772.5 494.3,774.0 C495.6,775.5 496.7,777.1 497.9,778.5 C499.1,779.9 500.5,781.1 501.6,782.4 C502.7,783.8 503.5,785.4 504.4,786.9 C505.3,788.4 506.1,789.9 506.9,791.5 C507.6,793.1 508.4,794.7 508.9,796.4 C509.5,798.0 510.0,799.8 510.3,801.6Z" fill="url(#tg4)" filter="url(#mottle1)"/>
<ellipse cx="586.6" cy="793.7" rx="37.1" ry="38.7" fill="#8d9095" opacity="0.35" filter="url(#shblur)"/>
<path d="M623.2,796.7 C623.4,798.7 622.6,800.8 622.3,802.9 C622.1,805.0 622.4,807.3 622.0,809.4 C621.6,811.5 620.9,813.7 620.0,815.7 C619.1,817.6 618.0,819.7 616.5,821.2 C615.1,822.8 613.1,824.0 611.3,825.1 C609.6,826.2 607.7,827.0 605.8,827.9 C604.0,828.8 602.2,829.8 600.3,830.3 C598.4,830.8 596.3,830.8 594.4,830.9 C592.4,830.9 590.4,831.1 588.6,830.6 C586.8,830.1 585.0,829.0 583.3,828.1 C581.7,827.2 580.3,825.9 578.6,825.3 C577.0,824.8 575.1,825.0 573.2,824.7 C571.3,824.3 569.1,824.1 567.2,823.4 C565.4,822.6 563.4,821.5 562.1,820.0 C560.8,818.5 560.2,816.2 559.5,814.3 C558.8,812.4 558.2,810.4 557.8,808.5 C557.3,806.5 557.2,804.5 557.0,802.5 C556.8,800.6 556.8,798.7 556.5,796.7 C556.3,794.7 555.5,792.6 555.6,790.6 C555.7,788.6 556.4,786.6 557.0,784.7 C557.6,782.7 558.2,780.7 559.2,778.9 C560.1,777.1 561.4,775.5 562.5,773.8 C563.7,772.1 564.9,770.4 566.3,768.9 C567.7,767.4 569.3,765.9 571.0,764.8 C572.7,763.7 574.7,762.9 576.6,762.3 C578.6,761.8 580.7,761.6 582.7,761.4 C584.6,761.3 586.6,761.4 588.6,761.4 C590.6,761.4 592.6,760.9 594.6,761.2 C596.5,761.6 598.5,762.3 600.2,763.3 C601.9,764.4 603.4,766.1 604.6,767.7 C605.8,769.4 606.4,771.7 607.3,773.3 C608.3,775.0 609.2,776.3 610.3,777.6 C611.5,778.9 612.7,780.0 614.1,781.3 C615.5,782.5 617.5,783.7 618.7,785.2 C619.9,786.8 620.6,788.7 621.4,790.6 C622.1,792.6 623.1,794.7 623.2,796.7Z" fill="url(#tg5)" filter="url(#mottle1)"/>
<ellipse cx="74.2" cy="931.7" rx="31.9" ry="30.1" fill="#8d9095" opacity="0.35" filter="url(#shblur)"/>
<path d="M103.6,934.7 C103.9,936.2 104.4,937.8 104.1,939.3 C103.8,940.7 102.9,942.2 102.0,943.5 C101.2,944.7 99.9,945.8 98.9,946.9 C98.0,948.1 97.3,949.3 96.4,950.5 C95.6,951.7 94.7,952.9 93.7,954.1 C92.8,955.4 92.0,957.1 90.7,958.2 C89.5,959.2 87.8,959.8 86.1,960.2 C84.5,960.5 82.7,960.3 81.0,960.2 C79.4,960.2 77.8,960.0 76.2,959.9 C74.6,959.8 73.1,959.6 71.5,959.6 C69.8,959.6 68.1,960.0 66.4,959.9 C64.6,959.8 62.8,959.5 61.2,959.0 C59.5,958.4 57.7,957.7 56.4,956.7 C55.1,955.6 54.3,954.0 53.3,952.6 C52.4,951.2 51.3,949.9 50.7,948.4 C50.0,947.0 49.6,945.4 49.3,943.8 C49.0,942.3 48.8,940.7 48.9,939.2 C49.1,937.7 49.5,936.1 50.0,934.7 C50.5,933.3 51.6,932.1 52.0,930.7 C52.4,929.4 52.1,928.0 52.4,926.6 C52.7,925.3 53.2,924.0 53.7,922.6 C54.2,921.3 54.6,919.7 55.5,918.5 C56.4,917.4 57.9,916.7 59.1,915.8 C60.4,914.9 61.6,914.0 62.8,913.1 C64.1,912.2 65.3,911.4 66.7,910.4 C68.1,909.5 69.4,908.1 71.0,907.4 C72.6,906.6 74.4,905.9 76.2,905.6 C78.0,905.4 80.0,905.3 81.7,905.7 C83.4,906.1 85.1,907.0 86.6,908.0 C88.1,908.9 89.4,910.2 90.7,911.3 C92.0,912.4 93.2,913.5 94.3,914.6 C95.4,915.8 96.5,916.9 97.3,918.2 C98.2,919.4 98.9,920.8 99.5,922.2 C100.1,923.5 100.3,925.0 100.8,926.4 C101.3,927.7 102.2,929.0 102.6,930.4 C103.1,931.7 103.4,933.2 103.6,934.7Z" fill="url(#tg6)" filter="url(#mottle0)"/>
<ellipse cx="184.0" cy="928.0" rx="24.0" ry="26.0" fill="#8d9095" opacity="0.35" filter="url(#shblur)"/>
<path d="M204.7,931.0 C204.8,932.2 204.7,933.4 204.5,934.6 C204.3,935.8 204.0,936.9 203.7,938.1 C203.5,939.3 203.2,940.5 202.9,941.7 C202.6,943.0 202.3,944.3 201.8,945.6 C201.3,946.8 200.7,948.2 199.9,949.2 C199.1,950.2 197.9,951.0 196.9,951.7 C195.8,952.5 194.7,953.1 193.5,953.6 C192.3,954.1 191.0,954.5 189.8,954.7 C188.5,954.9 187.2,954.8 186.0,954.6 C184.8,954.5 183.4,954.4 182.4,953.7 C181.3,953.1 180.4,951.7 179.5,950.8 C178.6,949.9 177.8,949.0 176.9,948.3 C176.0,947.6 175.0,947.3 174.1,946.7 C173.1,946.1 172.2,945.4 171.2,944.7 C170.2,943.9 169.0,943.3 168.3,942.3 C167.6,941.2 167.2,939.9 167.0,938.6 C166.8,937.4 167.0,936.0 167.0,934.7 C167.0,933.4 167.2,932.2 167.1,931.0 C167.1,929.8 166.8,928.5 166.8,927.3 C166.8,926.0 167.0,924.7 167.2,923.5 C167.5,922.2 167.8,920.9 168.4,919.8 C169.0,918.7 170.0,917.9 170.8,917.0 C171.6,916.0 172.3,915.1 173.2,914.2 C174.0,913.3 175.0,912.6 175.9,911.8 C176.9,911.1 177.9,910.2 179.0,909.7 C180.0,909.2 181.3,909.0 182.4,908.8 C183.6,908.6 184.8,908.5 186.0,908.4 C187.2,908.3 188.4,908.1 189.7,908.1 C190.9,908.1 192.3,908.0 193.5,908.3 C194.7,908.6 196.0,909.2 197.0,910.0 C198.0,910.9 198.8,912.2 199.4,913.4 C200.0,914.6 200.5,916.0 200.8,917.3 C201.1,918.6 201.0,920.1 201.3,921.3 C201.5,922.5 202.0,923.4 202.5,924.4 C202.9,925.4 203.6,926.4 203.9,927.5 C204.3,928.6 204.6,929.8 204.7,931.0Z" fill="url(#tg7)" filter="url(#mottle0)"/>
<ellipse cx="339.4" cy="928.7" rx="36.8" ry="29.1" fill="#8d9095" opacity="0.35" filter="url(#shblur)"/>
<path d="M376.5,931.7 C376.3,933.2 375.7,934.8 374.9,936.2 C374.2,937.6 373.1,939.0 372.0,940.2 C370.9,941.4 369.4,942.4 368.2,943.5 C367.0,944.6 366.0,945.7 364.9,946.8 C363.8,947.8 362.7,949.0 361.5,950.0 C360.2,950.9 358.8,952.0 357.2,952.6 C355.6,953.3 353.8,953.6 352.0,954.0 C350.3,954.3 348.4,954.4 346.7,954.5 C344.9,954.7 343.2,954.6 341.4,954.8 C339.6,955.0 337.8,955.6 335.8,955.9 C333.8,956.2 331.6,956.7 329.6,956.5 C327.5,956.4 325.4,955.9 323.7,955.1 C322.1,954.2 320.8,952.8 319.6,951.5 C318.4,950.3 317.7,948.8 316.7,947.5 C315.7,946.3 314.5,945.2 313.5,944.0 C312.5,942.8 311.8,941.5 310.9,940.2 C310.0,938.9 308.8,937.6 308.1,936.2 C307.5,934.8 307.0,933.2 306.9,931.7 C306.9,930.2 307.4,928.7 307.7,927.2 C308.1,925.7 308.4,924.1 309.1,922.7 C309.7,921.3 310.5,919.8 311.7,918.6 C312.8,917.3 314.3,916.2 315.8,915.3 C317.3,914.3 318.9,913.4 320.6,912.8 C322.4,912.2 324.4,912.0 326.1,911.5 C327.9,911.0 329.4,910.4 331.0,909.9 C332.7,909.4 334.3,908.8 336.0,908.4 C337.8,908.0 339.6,907.6 341.4,907.6 C343.2,907.6 345.1,908.0 346.8,908.4 C348.5,908.9 349.9,909.9 351.5,910.5 C353.1,911.0 354.5,911.6 356.3,912.0 C358.1,912.3 360.2,912.3 362.3,912.7 C364.4,913.0 367.1,913.3 368.9,914.1 C370.7,914.9 372.1,916.3 373.2,917.7 C374.3,919.0 375.0,920.7 375.5,922.2 C376.1,923.8 376.3,925.4 376.5,927.0 C376.6,928.6 376.8,930.2 376.5,931.7Z" fill="url(#tg8)" filter="url(#mottle1)"/>
<ellipse cx="474.4" cy="926.9" rx="31.0" ry="34.9" fill="#8d9095" opacity="0.35" filter="url(#shblur)"/>
<path d="M504.9,929.9 C504.7,931.8 504.1,933.6 503.6,935.4 C503.1,937.2 502.6,938.9 501.8,940.5 C501.1,942.1 499.9,943.3 499.1,944.9 C498.3,946.4 497.8,948.1 497.0,949.7 C496.2,951.2 495.3,952.8 494.1,954.1 C493.0,955.4 491.7,956.7 490.3,957.5 C488.9,958.3 487.2,958.7 485.6,958.9 C484.1,959.1 482.4,958.8 480.8,958.7 C479.3,958.7 477.9,958.5 476.4,958.6 C474.9,958.7 473.4,959.3 471.9,959.3 C470.3,959.4 468.6,959.5 467.1,959.0 C465.7,958.5 464.2,957.5 463.1,956.3 C461.9,955.2 461.1,953.5 460.1,952.1 C459.1,950.8 458.0,949.7 457.1,948.4 C456.1,947.1 455.4,945.7 454.5,944.3 C453.6,943.0 452.4,941.7 451.5,940.2 C450.7,938.7 450.1,937.0 449.6,935.3 C449.0,933.6 448.6,931.8 448.2,929.9 C447.9,928.0 447.5,926.0 447.5,924.1 C447.4,922.1 447.6,920.0 448.0,918.1 C448.5,916.2 449.2,914.2 450.2,912.6 C451.3,911.1 452.9,909.8 454.3,908.7 C455.7,907.6 457.3,906.8 458.9,906.0 C460.4,905.3 462.0,904.8 463.4,904.2 C464.9,903.6 466.2,903.1 467.7,902.4 C469.1,901.8 470.4,900.9 471.9,900.5 C473.3,900.2 474.9,900.0 476.4,900.3 C477.9,900.6 479.3,901.7 480.7,902.3 C482.0,903.0 483.3,903.6 484.6,904.2 C485.9,904.8 487.1,905.4 488.6,905.8 C490.0,906.3 491.7,906.3 493.3,906.8 C494.9,907.4 496.8,908.0 498.1,909.1 C499.4,910.2 500.4,911.9 501.3,913.5 C502.2,915.0 503.0,916.8 503.6,918.6 C504.2,920.4 504.8,922.3 505.0,924.1 C505.2,926.0 505.1,928.0 504.9,929.9Z" fill="url(#tg9)" filter="url(#mottle0)"/>
<ellipse cx="584.0" cy="925.9" rx="30.6" ry="31.9" fill="#8d9095" opacity="0.35" filter="url(#shblur)"/>
<path d="M615.0,928.9 C615.3,930.6 615.4,932.5 615.2,934.3 C615.0,936.1 614.5,937.9 613.8,939.5 C613.2,941.2 612.4,942.9 611.4,944.3 C610.3,945.6 608.9,946.8 607.5,947.8 C606.1,948.8 604.5,949.5 603.1,950.2 C601.6,950.9 600.2,951.5 598.7,952.0 C597.3,952.5 595.9,952.8 594.5,953.3 C593.1,953.8 591.8,954.6 590.4,954.9 C589.0,955.3 587.4,955.5 586.0,955.4 C584.6,955.2 583.2,954.3 581.8,953.8 C580.5,953.3 579.3,952.6 577.9,952.2 C576.6,951.8 575.1,951.7 573.6,951.4 C572.2,951.0 570.5,950.7 569.0,950.2 C567.4,949.6 565.6,949.0 564.3,948.0 C563.0,947.0 561.8,945.5 561.1,944.0 C560.3,942.5 560.1,940.6 559.7,938.9 C559.3,937.3 559.0,935.6 558.9,933.9 C558.7,932.2 558.8,930.6 558.8,928.9 C558.9,927.2 558.9,925.6 559.2,923.9 C559.5,922.3 560.1,920.7 560.7,919.2 C561.3,917.7 562.3,916.4 563.0,915.0 C563.8,913.5 564.3,911.9 565.2,910.6 C566.1,909.2 567.3,908.1 568.4,906.9 C569.6,905.8 570.7,904.5 572.1,903.7 C573.5,902.9 575.2,902.4 576.7,902.2 C578.3,902.1 580.0,902.5 581.6,902.5 C583.1,902.5 584.5,902.3 586.0,902.3 C587.5,902.3 589.0,902.3 590.5,902.4 C591.9,902.5 593.5,902.7 595.0,903.1 C596.4,903.5 598.1,903.9 599.2,904.9 C600.3,905.9 601.0,907.8 601.8,909.1 C602.7,910.4 603.3,911.7 604.2,912.9 C605.1,914.0 606.3,914.9 607.3,916.0 C608.4,917.1 609.6,918.2 610.6,919.5 C611.6,920.8 612.7,922.3 613.4,923.8 C614.2,925.4 614.7,927.2 615.0,928.9Z" fill="url(#tg10)" filter="url(#mottle0)"/>
<ellipse cx="217.0" cy="938.0" rx="21.0" ry="22.0" fill="#8d9095" opacity="0.35" filter="url(#shblur)"/>
<path d="M237.0,941.0 C237.2,942.1 237.2,943.3 236.9,944.3 C236.6,945.4 235.8,946.4 235.2,947.3 C234.6,948.1 233.9,948.9 233.3,949.7 C232.7,950.5 232.1,951.3 231.6,952.2 C231.1,953.1 230.6,954.1 230.0,954.9 C229.4,955.7 228.7,956.6 227.8,957.2 C227.0,957.8 226.0,958.1 225.0,958.5 C224.1,958.9 223.1,959.3 222.1,959.6 C221.1,959.8 220.0,960.0 219.0,960.0 C218.0,960.0 216.9,960.0 215.9,959.7 C214.9,959.4 213.9,958.9 213.0,958.3 C212.2,957.8 211.3,957.1 210.6,956.4 C209.9,955.7 209.3,954.8 208.6,954.1 C208.0,953.3 207.3,952.7 206.7,951.9 C206.0,951.2 205.3,950.5 204.8,949.7 C204.3,948.9 203.8,947.9 203.6,946.9 C203.4,946.0 203.6,944.9 203.6,943.9 C203.7,942.9 204.0,942.0 204.0,941.0 C204.0,940.0 203.9,939.2 203.7,938.1 C203.6,937.1 203.1,936.0 203.0,934.8 C202.9,933.7 202.8,932.3 203.0,931.2 C203.2,930.1 203.8,929.0 204.5,928.1 C205.1,927.2 206.1,926.5 206.9,925.8 C207.8,925.1 208.8,924.5 209.7,924.0 C210.7,923.5 211.7,923.1 212.8,922.8 C213.8,922.6 214.9,922.5 215.9,922.5 C217.0,922.5 218.0,922.7 219.0,922.9 C220.0,923.1 221.0,923.4 221.9,923.7 C222.8,924.0 223.7,924.5 224.5,924.9 C225.4,925.3 226.3,925.6 227.1,926.1 C228.0,926.6 228.9,927.0 229.6,927.6 C230.3,928.3 230.8,929.2 231.3,930.1 C231.8,930.9 232.2,931.8 232.6,932.7 C233.0,933.6 233.4,934.4 233.9,935.3 C234.4,936.1 235.0,937.0 235.5,937.9 C236.0,938.9 236.8,939.9 237.0,941.0Z" fill="url(#tg11)" filter="url(#mottle1)"/>
<rect x="19.3" y="747.4" width="629.7" height="270.0" fill="none" stroke="#231f20" stroke-width="3.8"/>
<text x="35.5" y="877.5" font-size="37" text-anchor="start" font-weight="bold" fill="#231f20">ctrl</text>
<text x="35.5" y="1001.0" font-size="37" text-anchor="start" font-weight="bold" fill="#231f20">anti-B7-H3</text>
<rect x="561.3" y="988.2" width="53.8" height="6.4" fill="#231f20"/>
<text x="588.6" y="978.3" font-size="39.5" text-anchor="middle" font-weight="bold" fill="#231f20">1cm</text>
<rect x="21.2" y="1936" width="629.8" height="333.0" fill="#e0e2e1"/>
<ellipse cx="67.4" cy="1980.6" rx="36.8" ry="34.9" fill="#8d9095" opacity="0.35" filter="url(#shblur)"/>
<path d="M103.3,1983.6 C103.2,1985.4 103.1,1987.4 102.4,1989.1 C101.7,1990.8 100.5,1992.4 99.2,1993.8 C97.9,1995.2 96.1,1996.2 94.7,1997.3 C93.3,1998.4 91.9,1999.3 90.8,2000.5 C89.8,2001.8 89.2,2003.3 88.2,2004.7 C87.3,2006.2 86.4,2007.9 85.2,2009.3 C83.9,2010.7 82.5,2012.2 80.8,2013.1 C79.1,2014.0 77.1,2014.3 75.2,2014.6 C73.3,2014.9 71.3,2014.7 69.4,2014.7 C67.5,2014.7 65.5,2014.9 63.6,2014.6 C61.7,2014.4 59.9,2013.6 58.0,2013.0 C56.2,2012.4 54.2,2012.0 52.5,2011.2 C50.8,2010.3 49.3,2009.0 47.9,2007.7 C46.5,2006.5 45.3,2005.0 44.0,2003.6 C42.8,2002.2 41.6,2000.9 40.4,1999.4 C39.2,1997.9 37.7,1996.4 36.9,1994.7 C36.0,1993.1 35.2,1991.1 35.2,1989.3 C35.1,1987.4 35.8,1985.4 36.3,1983.6 C36.8,1981.8 37.5,1980.1 37.9,1978.4 C38.4,1976.6 38.5,1974.9 38.9,1973.2 C39.3,1971.4 39.5,1969.5 40.3,1967.8 C41.1,1966.2 42.3,1964.6 43.7,1963.3 C45.1,1962.1 47.0,1961.1 48.7,1960.4 C50.5,1959.7 52.5,1959.3 54.3,1958.9 C56.1,1958.5 57.8,1958.4 59.5,1958.0 C61.1,1957.5 62.6,1956.7 64.3,1956.2 C65.9,1955.7 67.6,1955.1 69.4,1954.7 C71.2,1954.3 73.1,1953.8 75.0,1953.7 C76.9,1953.5 79.0,1953.4 80.9,1953.8 C82.9,1954.1 84.6,1955.1 86.5,1955.8 C88.4,1956.4 90.6,1956.8 92.4,1957.8 C94.3,1958.7 96.1,1959.9 97.5,1961.4 C98.9,1962.9 99.9,1964.8 100.6,1966.7 C101.3,1968.5 101.3,1970.7 101.6,1972.6 C102.0,1974.5 102.6,1976.2 102.9,1978.1 C103.1,1979.9 103.4,1981.8 103.3,1983.6Z" fill="url(#tg12)" filter="url(#mottle1)"/>
<ellipse cx="214.0" cy="1979.8" rx="38.7" ry="32.5" fill="#8d9095" opacity="0.35" filter="url(#shblur)"/>
<path d="M250.2,1982.8 C250.6,1984.4 250.5,1986.1 250.2,1987.8 C250.0,1989.4 249.3,1991.0 248.6,1992.6 C247.9,1994.1 247.1,1995.7 246.1,1997.1 C245.1,1998.5 243.9,1999.9 242.6,2001.1 C241.2,2002.4 239.8,2003.6 238.2,2004.6 C236.6,2005.5 234.6,2006.1 232.8,2006.7 C230.9,2007.3 229.1,2007.7 227.3,2008.3 C225.5,2008.9 223.8,2009.5 221.9,2010.3 C220.0,2011.1 218.1,2012.6 216.0,2013.2 C213.9,2013.8 211.5,2014.0 209.3,2013.8 C207.2,2013.6 205.0,2012.9 203.1,2012.1 C201.2,2011.2 199.5,2009.7 197.9,2008.5 C196.4,2007.3 194.9,2006.1 193.5,2004.9 C192.1,2003.6 190.9,2002.3 189.5,2001.1 C188.1,1999.9 186.1,1998.9 185.1,1997.5 C184.1,1996.1 183.8,1994.2 183.6,1992.5 C183.3,1990.8 183.3,1989.1 183.6,1987.5 C183.8,1985.9 184.8,1984.3 185.2,1982.8 C185.6,1981.3 185.9,1979.9 186.1,1978.5 C186.3,1977.0 186.0,1975.4 186.3,1973.9 C186.7,1972.4 187.6,1971.1 188.3,1969.6 C189.0,1968.2 189.8,1966.8 190.6,1965.3 C191.4,1963.8 192.0,1961.9 193.2,1960.4 C194.3,1958.9 195.9,1957.7 197.5,1956.4 C199.0,1955.0 200.5,1953.1 202.5,1952.3 C204.5,1951.4 207.0,1951.3 209.3,1951.3 C211.5,1951.4 213.9,1952.1 216.0,1952.6 C218.1,1953.2 220.1,1954.0 222.1,1954.5 C224.1,1955.1 226.0,1955.2 228.0,1955.8 C229.9,1956.3 231.8,1956.9 233.6,1957.7 C235.4,1958.5 237.5,1959.2 238.8,1960.4 C240.2,1961.6 241.0,1963.4 241.9,1964.9 C242.8,1966.4 243.6,1967.9 244.3,1969.4 C244.9,1970.9 245.3,1972.4 246.0,1973.8 C246.6,1975.3 247.5,1976.6 248.2,1978.1 C248.9,1979.6 249.9,1981.2 250.2,1982.8Z" fill="url(#tg13)" filter="url(#mottle0)"/>
<ellipse cx="334.6" cy="1984.6" rx="31.9" ry="33.5" fill="#8d9095" opacity="0.35" filter="url(#shblur)"/>
<path d="M363.7,1987.6 C363.9,1989.2 363.6,1990.9 363.3,1992.6 C363.1,1994.2 362.4,1995.7 362.0,1997.4 C361.7,1999.1 361.7,2000.9 361.4,2002.7 C361.0,2004.5 360.6,2006.5 359.9,2008.2 C359.2,2010.0 358.2,2011.9 356.9,2013.2 C355.6,2014.5 353.9,2015.5 352.1,2015.9 C350.3,2016.4 348.2,2016.1 346.4,2016.0 C344.6,2015.9 342.9,2015.5 341.3,2015.5 C339.6,2015.6 338.2,2016.0 336.6,2016.1 C335.0,2016.3 333.4,2016.6 331.8,2016.5 C330.2,2016.4 328.5,2016.0 327.0,2015.5 C325.4,2015.0 323.8,2014.5 322.4,2013.5 C321.1,2012.5 320.2,2010.9 319.0,2009.7 C317.9,2008.5 316.6,2007.5 315.6,2006.2 C314.6,2004.9 313.7,2003.5 313.0,2002.0 C312.2,2000.5 311.7,1998.9 311.2,1997.3 C310.8,1995.8 310.4,1994.1 310.2,1992.5 C310.0,1990.9 310.3,1989.3 310.2,1987.6 C310.1,1985.9 309.7,1984.3 309.7,1982.6 C309.7,1980.9 309.8,1979.1 310.3,1977.5 C310.8,1975.9 311.6,1974.3 312.6,1973.0 C313.6,1971.6 315.0,1970.6 316.1,1969.5 C317.3,1968.3 318.4,1967.3 319.4,1966.0 C320.4,1964.7 321.2,1962.9 322.3,1961.4 C323.4,1959.9 324.6,1958.0 326.0,1956.9 C327.5,1955.8 329.4,1955.2 331.1,1954.8 C332.9,1954.4 334.8,1954.4 336.6,1954.7 C338.4,1955.0 340.2,1955.6 341.8,1956.5 C343.4,1957.3 344.7,1959.0 346.1,1960.0 C347.6,1961.0 349.2,1961.3 350.4,1962.4 C351.7,1963.4 352.6,1964.9 353.6,1966.2 C354.6,1967.5 355.6,1968.8 356.3,1970.1 C357.1,1971.5 357.7,1972.9 358.4,1974.3 C359.0,1975.7 359.6,1977.1 360.3,1978.5 C361.0,1979.9 361.9,1981.3 362.5,1982.8 C363.1,1984.3 363.6,1986.0 363.7,1987.6Z" fill="url(#tg14)" filter="url(#mottle2)"/>
<ellipse cx="460.0" cy="1984.7" rx="35.9" ry="38.4" fill="#8d9095" opacity="0.35" filter="url(#shblur)"/>
<path d="M495.5,1987.7 C496.0,1989.8 496.4,1992.1 496.1,1994.2 C495.8,1996.2 494.7,1998.4 493.5,2000.1 C492.3,2001.8 490.3,2003.1 488.8,2004.4 C487.3,2005.8 485.9,2006.8 484.6,2008.1 C483.3,2009.4 482.3,2010.9 481.0,2012.1 C479.7,2013.3 478.3,2014.4 476.8,2015.4 C475.4,2016.4 473.9,2017.5 472.3,2018.1 C470.7,2018.7 468.8,2018.7 467.1,2019.1 C465.4,2019.4 463.8,2019.9 462.0,2020.2 C460.2,2020.5 458.4,2020.8 456.6,2021.0 C454.7,2021.1 452.6,2021.4 450.7,2021.1 C448.8,2020.8 446.9,2020.0 445.2,2019.1 C443.5,2018.2 442.0,2016.7 440.4,2015.5 C438.7,2014.3 436.9,2013.3 435.3,2011.9 C433.7,2010.4 432.1,2008.8 431.0,2007.0 C429.8,2005.2 428.5,2003.1 428.2,2001.0 C427.8,1998.8 428.3,1996.2 428.8,1994.0 C429.3,1991.8 430.5,1989.6 431.3,1987.7 C432.1,1985.8 433.2,1984.1 433.8,1982.3 C434.4,1980.6 434.4,1978.8 434.8,1977.0 C435.3,1975.3 435.8,1973.5 436.4,1971.8 C437.0,1970.0 437.6,1968.1 438.6,1966.5 C439.5,1964.9 440.8,1963.3 442.2,1962.2 C443.6,1961.1 445.5,1960.7 447.0,1959.7 C448.5,1958.7 449.8,1957.2 451.4,1956.3 C453.0,1955.3 454.7,1954.8 456.5,1954.2 C458.3,1953.5 460.1,1952.7 462.0,1952.5 C463.9,1952.2 465.8,1952.4 467.7,1952.8 C469.6,1953.1 471.4,1953.9 473.2,1954.6 C475.0,1955.3 476.8,1956.0 478.5,1956.9 C480.1,1957.9 481.8,1959.1 483.3,1960.4 C484.7,1961.7 486.4,1963.0 487.4,1964.7 C488.4,1966.4 488.8,1968.7 489.4,1970.6 C490.0,1972.6 490.4,1974.5 491.0,1976.3 C491.6,1978.2 492.3,1979.9 493.0,1981.8 C493.7,1983.7 495.0,1985.6 495.5,1987.7Z" fill="url(#tg15)" filter="url(#mottle2)"/>
<ellipse cx="591.1" cy="1978.2" rx="33.9" ry="31.0" fill="#8d9095" opacity="0.35" filter="url(#shblur)"/>
<path d="M626.4,1981.2 C626.4,1982.9 626.2,1984.8 625.4,1986.3 C624.6,1987.9 623.0,1989.3 621.6,1990.6 C620.3,1991.8 618.7,1992.8 617.4,1993.9 C616.1,1994.9 615.0,1995.9 613.8,1996.9 C612.7,1998.0 611.8,1999.0 610.6,2000.1 C609.5,2001.1 608.5,2002.3 607.2,2003.3 C605.9,2004.2 604.5,2005.1 603.0,2005.7 C601.5,2006.3 599.8,2006.6 598.1,2006.9 C596.5,2007.3 594.8,2007.7 593.1,2007.8 C591.4,2007.9 589.7,2007.7 588.0,2007.6 C586.2,2007.4 584.4,2007.3 582.8,2006.9 C581.1,2006.4 579.6,2005.5 578.1,2004.7 C576.6,2003.9 575.3,2002.8 573.9,2001.8 C572.6,2000.9 571.2,1999.9 569.9,1998.8 C568.7,1997.6 567.4,1996.5 566.3,1995.2 C565.2,1993.9 564.0,1992.5 563.3,1991.0 C562.7,1989.5 562.3,1987.7 562.4,1986.1 C562.4,1984.5 563.4,1982.8 563.6,1981.2 C563.8,1979.6 563.6,1978.1 563.7,1976.5 C563.8,1974.9 564.1,1973.4 564.3,1971.7 C564.6,1970.1 564.5,1968.2 565.2,1966.7 C565.9,1965.1 566.9,1963.5 568.2,1962.4 C569.6,1961.3 571.8,1960.7 573.5,1960.1 C575.3,1959.6 577.2,1959.4 578.9,1959.0 C580.6,1958.6 582.1,1958.2 583.7,1957.8 C585.3,1957.5 586.8,1957.1 588.3,1956.8 C589.9,1956.6 591.5,1956.4 593.1,1956.4 C594.7,1956.4 596.3,1956.6 597.9,1956.9 C599.4,1957.1 600.9,1957.5 602.5,1957.8 C604.2,1958.0 606.1,1957.9 607.8,1958.2 C609.5,1958.6 611.2,1959.2 612.8,1960.0 C614.4,1960.7 616.0,1961.7 617.3,1962.9 C618.5,1964.1 619.4,1965.6 620.4,1967.0 C621.4,1968.4 622.2,1969.9 623.0,1971.4 C623.8,1972.9 624.7,1974.4 625.3,1976.1 C625.9,1977.7 626.4,1979.5 626.4,1981.2Z" fill="url(#tg16)" filter="url(#mottle1)"/>
<ellipse cx="65.5" cy="2091.6" rx="32.9" ry="24.9" fill="#8d9095" opacity="0.35" filter="url(#shblur)"/>
<path d="M94.3,2094.6 C93.9,2095.7 93.5,2096.8 93.0,2097.8 C92.6,2098.9 92.3,2100.0 91.7,2100.9 C91.1,2101.9 90.2,2102.8 89.6,2103.8 C89.0,2104.8 88.7,2106.0 88.0,2107.0 C87.3,2108.0 86.4,2109.0 85.5,2110.0 C84.6,2111.1 83.8,2112.5 82.6,2113.5 C81.4,2114.5 79.9,2115.5 78.3,2116.1 C76.7,2116.6 74.7,2116.7 72.9,2116.8 C71.1,2116.9 69.3,2116.8 67.5,2116.6 C65.7,2116.4 64.1,2116.0 62.3,2115.8 C60.6,2115.5 58.8,2115.5 57.1,2115.1 C55.4,2114.8 53.7,2114.4 52.1,2113.8 C50.6,2113.2 49.0,2112.4 48.0,2111.4 C46.9,2110.4 46.6,2108.8 46.0,2107.6 C45.4,2106.4 44.9,2105.3 44.4,2104.2 C43.9,2103.1 43.6,2102.1 43.0,2101.0 C42.4,2100.0 41.5,2099.1 40.9,2098.0 C40.4,2096.9 40.0,2095.8 39.8,2094.6 C39.6,2093.4 39.7,2092.3 39.8,2091.1 C39.9,2089.9 40.1,2088.7 40.5,2087.5 C40.8,2086.3 41.2,2085.0 41.9,2083.9 C42.7,2082.9 43.9,2081.9 45.1,2081.0 C46.2,2080.1 47.4,2079.2 48.9,2078.6 C50.3,2077.9 52.1,2077.7 53.6,2077.2 C55.1,2076.7 56.5,2076.2 58.0,2075.7 C59.5,2075.2 60.9,2074.7 62.5,2074.2 C64.1,2073.6 65.8,2072.6 67.5,2072.4 C69.2,2072.1 71.2,2072.2 72.9,2072.5 C74.6,2072.7 76.4,2073.3 77.9,2074.0 C79.5,2074.6 80.8,2075.5 82.2,2076.2 C83.6,2076.9 85.0,2077.6 86.4,2078.4 C87.8,2079.1 89.2,2079.8 90.6,2080.6 C91.9,2081.5 93.5,2082.3 94.3,2083.4 C95.2,2084.5 95.2,2086.0 95.4,2087.3 C95.6,2088.5 95.7,2089.8 95.5,2091.0 C95.3,2092.3 94.8,2093.5 94.3,2094.6Z" fill="url(#tg17)" filter="url(#mottle2)"/>
<ellipse cx="203.8" cy="2091.3" rx="31.6" ry="27.1" fill="#8d9095" opacity="0.35" filter="url(#shblur)"/>
<path d="M233.6,2094.3 C233.5,2095.7 233.3,2097.0 233.1,2098.3 C232.9,2099.7 233.0,2101.1 232.5,2102.4 C232.0,2103.7 231.1,2105.0 230.2,2106.1 C229.4,2107.3 228.3,2108.3 227.3,2109.4 C226.2,2110.5 225.3,2111.6 224.1,2112.6 C222.9,2113.5 221.6,2114.4 220.2,2115.2 C218.8,2115.9 217.3,2116.7 215.7,2117.0 C214.1,2117.3 212.2,2117.3 210.6,2117.0 C208.9,2116.7 207.3,2115.9 205.8,2115.4 C204.3,2114.9 203.1,2114.3 201.7,2114.0 C200.3,2113.7 198.9,2113.8 197.4,2113.6 C196.0,2113.4 194.5,2113.2 193.0,2113.0 C191.4,2112.7 189.4,2112.7 188.0,2112.1 C186.6,2111.4 185.6,2110.3 184.5,2109.3 C183.5,2108.2 182.7,2107.1 181.8,2105.9 C181.0,2104.8 180.2,2103.6 179.4,2102.4 C178.5,2101.2 177.6,2099.9 176.9,2098.6 C176.1,2097.2 175.2,2095.8 175.0,2094.3 C174.7,2092.8 175.0,2091.2 175.5,2089.8 C175.9,2088.4 176.7,2087.0 177.6,2085.7 C178.4,2084.4 179.6,2083.3 180.7,2082.2 C181.9,2081.1 183.0,2080.0 184.3,2079.2 C185.6,2078.3 187.1,2077.6 188.6,2077.1 C190.1,2076.6 191.8,2076.4 193.2,2076.0 C194.7,2075.7 196.0,2075.4 197.4,2075.0 C198.8,2074.6 200.1,2074.3 201.5,2073.8 C202.9,2073.3 204.3,2072.5 205.8,2072.0 C207.3,2071.5 209.1,2071.0 210.7,2071.0 C212.3,2071.1 213.8,2071.8 215.3,2072.4 C216.8,2073.0 218.2,2073.6 219.5,2074.4 C220.7,2075.2 221.7,2076.3 222.9,2077.2 C224.1,2078.1 225.4,2078.8 226.7,2079.6 C227.9,2080.5 229.4,2081.3 230.5,2082.4 C231.6,2083.4 232.7,2084.6 233.2,2085.9 C233.8,2087.2 233.6,2088.8 233.7,2090.2 C233.8,2091.6 233.7,2092.9 233.6,2094.3Z" fill="url(#tg18)" filter="url(#mottle1)"/>
<ellipse cx="339.8" cy="2093.6" rx="32.5" ry="31.4" fill="#8d9095" opacity="0.35" filter="url(#shblur)"/>
<path d="M369.8,2096.6 C369.9,2098.1 369.7,2099.7 369.5,2101.3 C369.3,2102.9 369.0,2104.4 368.6,2105.9 C368.1,2107.5 367.7,2109.1 367.0,2110.6 C366.3,2112.0 365.4,2113.6 364.3,2114.7 C363.1,2115.8 361.3,2116.4 359.8,2117.2 C358.4,2118.0 356.9,2118.6 355.5,2119.3 C354.0,2120.1 352.7,2120.8 351.3,2121.7 C349.9,2122.5 348.5,2123.6 346.9,2124.4 C345.3,2125.2 343.6,2126.0 341.8,2126.4 C340.0,2126.8 338.0,2127.0 336.3,2126.6 C334.5,2126.3 332.9,2125.1 331.4,2124.1 C329.9,2123.2 328.5,2121.9 327.2,2120.9 C325.8,2119.8 324.6,2118.8 323.3,2117.8 C322.0,2116.7 320.6,2115.8 319.6,2114.5 C318.6,2113.2 318.0,2111.6 317.5,2110.1 C317.0,2108.6 316.7,2107.0 316.4,2105.5 C316.2,2103.9 316.3,2102.4 316.2,2100.9 C316.1,2099.5 316.0,2098.1 315.9,2096.6 C315.8,2095.1 315.5,2093.6 315.7,2092.2 C315.9,2090.8 316.7,2089.4 317.1,2088.0 C317.6,2086.6 318.1,2085.2 318.6,2083.7 C319.1,2082.3 319.6,2080.8 320.2,2079.2 C320.8,2077.7 321.4,2075.9 322.3,2074.2 C323.1,2072.6 324.1,2070.7 325.5,2069.6 C326.9,2068.4 328.9,2067.8 330.7,2067.4 C332.6,2067.1 334.6,2067.4 336.5,2067.5 C338.3,2067.6 340.1,2068.0 341.8,2068.3 C343.5,2068.6 345.2,2069.0 346.8,2069.4 C348.4,2069.7 350.1,2070.1 351.7,2070.6 C353.3,2071.1 355.0,2071.5 356.3,2072.4 C357.7,2073.3 358.8,2074.8 359.8,2076.0 C360.8,2077.3 361.5,2078.7 362.4,2080.0 C363.3,2081.3 364.4,2082.4 365.1,2083.7 C365.8,2085.0 366.2,2086.5 366.9,2087.8 C367.5,2089.2 368.5,2090.5 369.0,2092.0 C369.5,2093.5 369.7,2095.1 369.8,2096.6Z" fill="url(#tg19)" filter="url(#mottle1)"/>
<ellipse cx="465.7" cy="2093.2" rx="33.9" ry="29.1" fill="#8d9095" opacity="0.35" filter="url(#shblur)"/>
<path d="M496.6,2096.2 C496.4,2097.6 496.2,2099.0 495.7,2100.3 C495.1,2101.6 494.0,2102.8 493.2,2104.0 C492.4,2105.2 491.7,2106.3 491.0,2107.5 C490.3,2108.6 489.6,2109.8 488.7,2111.0 C487.9,2112.1 487.0,2113.3 485.9,2114.4 C484.9,2115.5 483.7,2116.6 482.4,2117.5 C481.1,2118.5 479.6,2119.2 478.1,2120.0 C476.5,2120.9 475.0,2121.9 473.3,2122.6 C471.5,2123.3 469.6,2124.1 467.7,2124.3 C465.8,2124.6 463.7,2124.4 461.9,2124.0 C460.0,2123.6 458.1,2122.8 456.6,2121.8 C455.0,2120.9 453.8,2119.4 452.6,2118.2 C451.3,2117.0 450.3,2115.8 449.1,2114.7 C447.9,2113.7 446.6,2112.9 445.4,2111.9 C444.1,2110.9 442.4,2110.1 441.5,2108.9 C440.5,2107.7 440.0,2106.2 439.6,2104.8 C439.3,2103.3 439.2,2101.8 439.3,2100.4 C439.3,2099.0 439.8,2097.6 440.0,2096.2 C440.2,2094.8 440.1,2093.5 440.2,2092.1 C440.2,2090.7 439.9,2089.2 440.3,2087.8 C440.6,2086.5 441.4,2085.1 442.2,2083.9 C443.0,2082.6 444.1,2081.5 445.1,2080.3 C446.2,2079.2 447.2,2078.0 448.5,2077.0 C449.8,2076.1 451.2,2075.2 452.7,2074.5 C454.2,2073.7 455.8,2073.0 457.4,2072.6 C459.1,2072.1 460.9,2072.2 462.6,2072.0 C464.3,2071.9 466.0,2071.9 467.7,2071.9 C469.4,2071.8 471.0,2072.0 472.8,2072.0 C474.6,2071.9 476.5,2071.5 478.4,2071.5 C480.3,2071.6 482.5,2071.6 484.3,2072.1 C486.1,2072.7 487.8,2073.7 489.1,2074.8 C490.5,2075.9 491.7,2077.3 492.5,2078.8 C493.3,2080.2 493.6,2081.9 494.1,2083.4 C494.5,2085.0 494.8,2086.4 495.2,2087.8 C495.6,2089.2 496.3,2090.5 496.5,2091.9 C496.7,2093.3 496.7,2094.8 496.6,2096.2Z" fill="url(#tg20)" filter="url(#mottle0)"/>
<ellipse cx="602.3" cy="2094.6" rx="27.8" ry="31.6" fill="#8d9095" opacity="0.35" filter="url(#shblur)"/>
<path d="M631.0,2097.6 C630.8,2099.4 630.5,2101.3 629.7,2102.8 C628.9,2104.3 627.3,2105.6 626.1,2106.8 C624.9,2108.0 623.7,2108.9 622.8,2110.0 C621.8,2111.0 621.0,2112.0 620.3,2113.2 C619.6,2114.4 619.1,2115.8 618.4,2117.0 C617.6,2118.2 616.6,2119.4 615.6,2120.2 C614.5,2121.1 613.2,2121.5 611.9,2122.0 C610.7,2122.4 609.5,2122.7 608.2,2123.1 C606.9,2123.5 605.6,2123.9 604.3,2124.2 C603.0,2124.6 601.5,2125.0 600.1,2125.0 C598.7,2125.1 597.2,2125.0 595.8,2124.6 C594.5,2124.1 593.2,2123.3 591.9,2122.5 C590.6,2121.7 589.3,2121.0 588.1,2120.0 C586.9,2119.0 585.9,2117.7 584.9,2116.5 C583.9,2115.2 582.7,2114.0 582.0,2112.5 C581.4,2111.0 581.2,2109.1 581.1,2107.4 C581.0,2105.7 581.3,2103.9 581.4,2102.3 C581.6,2100.7 582.0,2099.2 582.0,2097.6 C582.0,2096.0 581.7,2094.5 581.6,2093.0 C581.5,2091.4 581.5,2089.7 581.7,2088.0 C581.8,2086.4 581.8,2084.4 582.4,2083.0 C583.1,2081.5 584.5,2080.5 585.7,2079.5 C586.8,2078.5 588.1,2077.6 589.3,2076.9 C590.6,2076.2 592.0,2076.0 593.2,2075.4 C594.5,2074.7 595.4,2073.7 596.6,2073.0 C597.8,2072.4 599.1,2071.8 600.3,2071.5 C601.6,2071.3 603.0,2071.4 604.3,2071.4 C605.6,2071.5 606.9,2071.8 608.2,2072.0 C609.5,2072.2 610.8,2072.2 612.2,2072.5 C613.5,2072.9 614.8,2073.4 616.1,2074.0 C617.4,2074.5 618.8,2075.0 620.0,2075.9 C621.2,2076.8 622.1,2078.1 623.1,2079.3 C624.1,2080.5 624.9,2081.9 625.8,2083.2 C626.7,2084.6 627.7,2085.9 628.4,2087.4 C629.2,2088.9 629.9,2090.6 630.4,2092.3 C630.8,2094.0 631.1,2095.8 631.0,2097.6Z" fill="url(#tg21)" filter="url(#mottle1)"/>
<ellipse cx="67.8" cy="2197.5" rx="23.7" ry="20.4" fill="#8d9095" opacity="0.35" filter="url(#shblur)"/>
<path d="M89.2,2200.5 C89.3,2201.4 89.7,2202.5 89.6,2203.4 C89.5,2204.4 89.0,2205.3 88.6,2206.2 C88.2,2207.1 87.5,2207.9 86.9,2208.7 C86.3,2209.6 85.8,2210.4 85.0,2211.1 C84.3,2211.9 83.4,2212.5 82.5,2213.1 C81.7,2213.7 80.7,2214.4 79.7,2214.7 C78.6,2215.1 77.3,2215.1 76.2,2215.1 C75.1,2215.2 73.9,2215.0 72.9,2215.0 C71.8,2215.0 70.9,2214.9 69.8,2215.1 C68.7,2215.2 67.6,2215.9 66.5,2216.0 C65.4,2216.1 64.2,2216.0 63.1,2215.8 C62.0,2215.7 60.7,2215.5 59.7,2215.0 C58.8,2214.5 58.1,2213.6 57.2,2213.0 C56.4,2212.3 55.5,2211.8 54.6,2211.1 C53.6,2210.5 52.6,2210.0 51.7,2209.2 C50.8,2208.5 49.8,2207.7 49.2,2206.7 C48.6,2205.8 48.1,2204.7 47.9,2203.7 C47.8,2202.7 48.0,2201.5 48.3,2200.5 C48.5,2199.5 48.9,2198.4 49.4,2197.5 C50.0,2196.6 51.0,2195.8 51.7,2195.0 C52.4,2194.2 52.9,2193.4 53.6,2192.7 C54.3,2192.0 55.0,2191.3 55.9,2190.8 C56.7,2190.2 57.9,2190.0 58.7,2189.5 C59.6,2189.0 60.2,2188.4 61.0,2187.8 C61.7,2187.2 62.5,2186.5 63.4,2185.9 C64.3,2185.3 65.3,2184.6 66.4,2184.3 C67.4,2183.9 68.7,2183.8 69.8,2183.8 C70.9,2183.8 72.1,2184.1 73.2,2184.4 C74.3,2184.6 75.4,2184.9 76.5,2185.2 C77.6,2185.5 78.8,2185.6 79.9,2185.9 C81.0,2186.3 82.2,2186.7 83.2,2187.2 C84.3,2187.7 85.5,2188.3 86.2,2189.0 C87.0,2189.8 87.4,2190.9 87.7,2191.9 C88.1,2192.9 88.2,2193.9 88.4,2194.9 C88.5,2195.9 88.6,2196.8 88.7,2197.7 C88.8,2198.7 89.0,2199.6 89.2,2200.5Z" fill="url(#tg22)" filter="url(#mottle2)"/>
<ellipse cx="204.4" cy="2195.0" rx="17.5" ry="21.0" fill="#8d9095" opacity="0.35" filter="url(#shblur)"/>
<path d="M220.3,2198.0 C220.2,2199.0 219.7,2200.0 219.3,2200.9 C219.0,2201.8 218.5,2202.6 218.2,2203.4 C217.9,2204.3 217.8,2205.2 217.5,2206.1 C217.3,2207.0 217.1,2208.0 216.7,2208.9 C216.3,2209.7 215.8,2210.6 215.2,2211.2 C214.6,2211.9 213.9,2212.4 213.2,2212.7 C212.4,2213.1 211.6,2213.3 210.9,2213.5 C210.1,2213.7 209.4,2213.7 208.6,2213.8 C207.9,2213.9 207.1,2214.0 206.4,2214.1 C205.7,2214.1 204.9,2214.2 204.2,2214.0 C203.4,2213.9 202.7,2213.5 202.0,2213.2 C201.3,2212.9 200.6,2212.5 199.9,2212.2 C199.1,2211.9 198.3,2211.8 197.5,2211.4 C196.7,2211.0 195.9,2210.4 195.3,2209.8 C194.6,2209.1 194.0,2208.2 193.6,2207.3 C193.1,2206.4 192.9,2205.3 192.7,2204.3 C192.5,2203.2 192.5,2202.1 192.5,2201.1 C192.4,2200.0 192.3,2199.0 192.2,2198.0 C192.2,2197.0 192.1,2195.9 192.2,2194.8 C192.3,2193.8 192.5,2192.7 192.9,2191.8 C193.3,2190.9 194.1,2190.2 194.8,2189.5 C195.4,2188.9 196.1,2188.4 196.8,2187.9 C197.5,2187.4 198.3,2187.1 198.9,2186.7 C199.5,2186.3 200.1,2185.9 200.6,2185.3 C201.1,2184.8 201.5,2183.8 202.1,2183.3 C202.7,2182.7 203.4,2182.3 204.2,2182.0 C204.9,2181.7 205.6,2181.6 206.4,2181.4 C207.2,2181.2 208.0,2180.8 208.8,2180.8 C209.6,2180.7 210.5,2180.8 211.3,2181.0 C212.1,2181.2 213.0,2181.6 213.7,2182.1 C214.4,2182.6 215.1,2183.3 215.6,2184.1 C216.2,2184.9 216.5,2186.0 216.9,2186.9 C217.4,2187.7 217.9,2188.5 218.3,2189.3 C218.8,2190.2 219.3,2191.0 219.6,2191.9 C220.0,2192.9 220.2,2193.9 220.3,2194.9 C220.5,2195.9 220.5,2197.0 220.3,2198.0Z" fill="url(#tg23)" filter="url(#mottle0)"/>
<ellipse cx="339.8" cy="2194.0" rx="17.9" ry="21.9" fill="#8d9095" opacity="0.35" filter="url(#shblur)"/>
<path d="M355.9,2197.0 C356.1,2198.0 356.3,2199.2 356.3,2200.3 C356.3,2201.4 356.2,2202.6 355.9,2203.6 C355.6,2204.7 355.0,2205.6 354.5,2206.5 C354.0,2207.3 353.3,2208.0 352.7,2208.8 C352.1,2209.6 351.6,2210.3 351.0,2211.1 C350.4,2211.9 349.9,2212.9 349.2,2213.5 C348.5,2214.1 347.7,2214.6 346.9,2214.9 C346.0,2215.2 345.1,2215.4 344.3,2215.4 C343.5,2215.3 342.6,2214.8 341.8,2214.5 C341.0,2214.3 340.3,2213.8 339.5,2213.6 C338.8,2213.3 338.0,2213.3 337.3,2213.1 C336.5,2212.9 335.6,2212.8 334.9,2212.4 C334.1,2212.1 333.4,2211.6 332.8,2210.9 C332.2,2210.2 331.7,2209.3 331.2,2208.5 C330.8,2207.6 330.4,2206.7 330.0,2205.8 C329.6,2204.9 329.2,2204.0 329.0,2203.0 C328.7,2202.1 328.6,2201.0 328.5,2200.0 C328.5,2199.0 328.4,2198.0 328.6,2197.0 C328.7,2196.0 329.1,2195.1 329.3,2194.1 C329.4,2193.2 329.4,2192.2 329.5,2191.2 C329.6,2190.2 329.6,2189.1 329.7,2188.0 C329.8,2186.9 329.9,2185.5 330.3,2184.5 C330.7,2183.5 331.4,2182.8 332.1,2182.1 C332.8,2181.5 333.7,2181.0 334.5,2180.6 C335.3,2180.2 336.1,2180.0 336.9,2179.6 C337.7,2179.2 338.4,2178.6 339.2,2178.3 C340.1,2177.9 340.9,2177.4 341.8,2177.4 C342.7,2177.4 343.6,2177.7 344.4,2178.2 C345.2,2178.6 346.0,2179.2 346.6,2179.9 C347.3,2180.6 347.9,2181.5 348.4,2182.3 C348.9,2183.1 349.3,2183.9 349.8,2184.7 C350.3,2185.4 350.8,2186.1 351.2,2186.8 C351.7,2187.5 352.2,2188.1 352.7,2188.9 C353.1,2189.7 353.4,2190.5 353.8,2191.4 C354.1,2192.2 354.5,2193.1 354.8,2194.0 C355.1,2195.0 355.6,2196.0 355.9,2197.0Z" fill="url(#tg24)" filter="url(#mottle1)"/>
<ellipse cx="460.3" cy="2195.0" rx="24.6" ry="21.8" fill="#8d9095" opacity="0.35" filter="url(#shblur)"/>
<path d="M481.9,2198.0 C482.0,2199.0 482.1,2200.0 482.2,2201.0 C482.3,2202.1 482.6,2203.2 482.5,2204.3 C482.4,2205.4 482.2,2206.6 481.6,2207.6 C481.0,2208.5 479.9,2209.3 479.0,2210.0 C478.0,2210.8 477.0,2211.4 476.0,2212.0 C475.0,2212.7 474.1,2213.4 473.0,2214.0 C472.0,2214.5 470.8,2214.9 469.6,2215.3 C468.5,2215.8 467.3,2216.5 466.1,2216.6 C464.9,2216.8 463.5,2216.6 462.3,2216.3 C461.1,2216.1 459.9,2215.6 458.8,2215.2 C457.7,2214.8 456.6,2214.3 455.6,2213.8 C454.6,2213.4 453.5,2213.1 452.6,2212.5 C451.7,2211.9 450.9,2211.1 450.3,2210.3 C449.6,2209.6 449.2,2208.6 448.6,2207.9 C447.9,2207.2 447.2,2206.6 446.4,2205.9 C445.6,2205.2 444.8,2204.5 444.0,2203.7 C443.1,2203.0 441.9,2202.2 441.1,2201.2 C440.4,2200.3 439.8,2199.1 439.6,2198.0 C439.4,2196.9 439.6,2195.7 440.0,2194.6 C440.4,2193.5 441.1,2192.5 441.7,2191.6 C442.4,2190.6 443.1,2189.7 443.8,2188.8 C444.4,2187.9 444.9,2186.9 445.6,2186.0 C446.3,2185.0 447.0,2184.0 447.9,2183.3 C448.9,2182.6 450.1,2182.0 451.3,2181.7 C452.6,2181.4 454.0,2181.5 455.3,2181.5 C456.6,2181.5 457.8,2181.6 458.9,2181.6 C460.1,2181.5 461.2,2181.3 462.3,2181.3 C463.4,2181.2 464.6,2181.2 465.7,2181.4 C466.8,2181.7 467.8,2182.1 468.9,2182.5 C469.9,2182.8 471.0,2183.1 472.0,2183.5 C473.1,2183.9 474.1,2184.4 475.1,2184.9 C476.2,2185.4 477.4,2185.8 478.3,2186.5 C479.2,2187.1 480.0,2188.0 480.7,2188.9 C481.3,2189.8 481.9,2190.8 482.1,2191.8 C482.3,2192.8 481.8,2194.0 481.8,2195.0 C481.8,2196.1 481.9,2197.0 481.9,2198.0Z" fill="url(#tg25)" filter="url(#mottle0)"/>
<ellipse cx="602.3" cy="2190.5" rx="22.7" ry="22.4" fill="#8d9095" opacity="0.35" filter="url(#shblur)"/>
<path d="M623.3,2193.5 C623.3,2194.6 623.1,2195.7 623.0,2196.7 C622.8,2197.8 622.8,2199.0 622.4,2199.9 C621.9,2200.9 621.1,2201.8 620.4,2202.6 C619.6,2203.4 618.7,2204.0 618.0,2204.7 C617.2,2205.5 616.5,2206.2 615.8,2206.9 C615.0,2207.6 614.3,2208.5 613.5,2209.1 C612.6,2209.7 611.6,2210.1 610.6,2210.4 C609.6,2210.7 608.4,2210.7 607.4,2210.7 C606.3,2210.7 605.3,2210.5 604.3,2210.4 C603.3,2210.3 602.4,2210.1 601.3,2210.1 C600.3,2210.2 599.1,2210.5 598.0,2210.6 C596.8,2210.6 595.4,2210.8 594.2,2210.6 C593.0,2210.4 591.7,2210.0 590.7,2209.4 C589.7,2208.7 588.9,2207.7 588.2,2206.8 C587.5,2205.8 587.0,2204.7 586.5,2203.6 C586.1,2202.5 585.8,2201.3 585.5,2200.2 C585.2,2199.1 584.9,2198.0 584.9,2196.9 C584.9,2195.7 585.2,2194.6 585.5,2193.5 C585.8,2192.4 586.2,2191.4 586.6,2190.4 C587.1,2189.5 587.6,2188.6 588.0,2187.7 C588.5,2186.8 588.9,2185.9 589.4,2185.0 C589.8,2184.2 590.2,2183.2 590.8,2182.4 C591.4,2181.6 592.2,2180.9 593.0,2180.3 C593.8,2179.7 594.9,2179.4 595.8,2179.0 C596.6,2178.5 597.5,2178.0 598.4,2177.5 C599.2,2176.9 600.1,2176.5 601.1,2175.9 C602.1,2175.3 603.2,2174.3 604.3,2174.0 C605.4,2173.6 606.7,2173.7 607.8,2173.8 C609.0,2174.0 610.2,2174.2 611.2,2174.8 C612.2,2175.4 612.9,2176.6 613.8,2177.4 C614.6,2178.1 615.6,2178.7 616.4,2179.4 C617.2,2180.1 617.8,2181.0 618.5,2181.8 C619.3,2182.6 620.1,2183.3 620.7,2184.2 C621.3,2185.1 622.0,2186.0 622.3,2187.1 C622.7,2188.1 622.7,2189.2 622.8,2190.3 C623.0,2191.4 623.3,2192.4 623.3,2193.5Z" fill="url(#tg26)" filter="url(#mottle0)"/>
<rect x="21.2" y="1936" width="629.8" height="333.0" fill="none" stroke="#231f20" stroke-width="3.8"/>
<text x="35.5" y="2057.0" font-size="37" text-anchor="start" font-weight="bold" fill="#231f20">ctrl</text>
<text x="35.5" y="2156.0" font-size="37" text-anchor="start" font-weight="bold" fill="#231f20">anti-PD-1</text>
<text x="35.5" y="2253.5" font-size="37" text-anchor="start" font-weight="bold" fill="#231f20">anti-B7-H3 + anti-PD-1</text>
<rect x="563.7" y="2243.8" width="54.0" height="6.7" fill="#231f20"/>
<text x="590.8" y="2233.7" font-size="39.5" text-anchor="middle" font-weight="bold" fill="#231f20">1cm</text>
<rect x="1300.5" y="650.7" width="342.5" height="219.8" fill="#ccc" filter="url(#cd8a)"/>
<rect x="1490.5" y="718.5" width="152.5" height="152.0" fill="#ccc" filter="url(#cd8ia)"/>
<rect x="1490.5" y="718.5" width="152.5" height="152.0" fill="none" stroke="#231f20" stroke-width="3.6"/>
<rect x="1300.5" y="650.7" width="342.5" height="219.8" fill="none" stroke="#231f20" stroke-width="3.8"/>
<rect x="1653" y="650.7" width="343.4" height="219.8" fill="#ccc" filter="url(#ma)"/>
<g clip-path="url(#clip_ma)"><path d="M1656.1,672.5 L1711.4,699.1 L1772.7,713.5 L1834.1,715.5 L1875.0,709.4" fill="none" stroke="#35a4ae" stroke-width="14" stroke-linecap="round" stroke-linejoin="round" opacity="0.3" filter="url(#blur5)"/><path d="M1656.1,725.7 L1690.9,746.2 L1721.6,778.9" fill="none" stroke="#35a4ae" stroke-width="14" stroke-linecap="round" stroke-linejoin="round" opacity="0.3" filter="url(#blur5)"/><path d="M1721.6,778.9 L1752.3,815.7 L1793.2,866.9" fill="none" stroke="#35a4ae" stroke-width="14" stroke-linecap="round" stroke-linejoin="round" opacity="0.3" filter="url(#blur5)"/><path d="M1721.6,778.9 L1762.5,750.3 L1813.6,733.9 L1844.3,715.5" fill="none" stroke="#35a4ae" stroke-width="14" stroke-linecap="round" stroke-linejoin="round" opacity="0.3" filter="url(#blur5)"/><path d="M1670.5,750.3 L1690.9,801.4 L1701.1,852.5 L1695.0,866.9" fill="none" stroke="#35a4ae" stroke-width="14" stroke-linecap="round" stroke-linejoin="round" opacity="0.3" filter="url(#blur5)"/><path d="M1752.3,656.2 L1834.1,660.3 L1915.9,658.2 L1993.6,656.2" fill="none" stroke="#35a4ae" stroke-width="14" stroke-linecap="round" stroke-linejoin="round" opacity="0.3" filter="url(#blur5)"/><path d="M1915.9,672.5 L1956.8,680.7 L1993.6,688.9" fill="none" stroke="#35a4ae" stroke-width="14" stroke-linecap="round" stroke-linejoin="round" opacity="0.3" filter="url(#blur5)"/><path d="M1656.1,699.1 L1701.1,715.5 L1735.9,733.9 L1772.7,762.5 L1793.2,791.2" fill="none" stroke="#35a4ae" stroke-width="14" stroke-linecap="round" stroke-linejoin="round" opacity="0.3" filter="url(#blur5)"/><path d="M1721.6,778.9 L1690.9,815.7 L1670.5,866.9" fill="none" stroke="#35a4ae" stroke-width="14" stroke-linecap="round" stroke-linejoin="round" opacity="0.3" filter="url(#blur5)"/><path d="M1656.1,672.5 L1711.4,699.1 L1772.7,713.5 L1834.1,715.5 L1875.0,709.4" fill="none" stroke="#35a4ae" stroke-width="4" stroke-linecap="round" stroke-linejoin="round" opacity="0.65" filter="url(#blur2)"/><path d="M1656.1,725.7 L1690.9,746.2 L1721.6,778.9" fill="none" stroke="#35a4ae" stroke-width="4" stroke-linecap="round" stroke-linejoin="round" opacity="0.65" filter="url(#blur2)"/><path d="M1721.6,778.9 L1752.3,815.7 L1793.2,866.9" fill="none" stroke="#35a4ae" stroke-width="4" stroke-linecap="round" stroke-linejoin="round" opacity="0.65" filter="url(#blur2)"/><path d="M1721.6,778.9 L1762.5,750.3 L1813.6,733.9 L1844.3,715.5" fill="none" stroke="#35a4ae" stroke-width="4" stroke-linecap="round" stroke-linejoin="round" opacity="0.65" filter="url(#blur2)"/><path d="M1670.5,750.3 L1690.9,801.4 L1701.1,852.5 L1695.0,866.9" fill="none" stroke="#35a4ae" stroke-width="4" stroke-linecap="round" stroke-linejoin="round" opacity="0.65" filter="url(#blur2)"/><path d="M1752.3,656.2 L1834.1,660.3 L1915.9,658.2 L1993.6,656.2" fill="none" stroke="#35a4ae" stroke-width="4" stroke-linecap="round" stroke-linejoin="round" opacity="0.65" filter="url(#blur2)"/><path d="M1915.9,672.5 L1956.8,680.7 L1993.6,688.9" fill="none" stroke="#35a4ae" stroke-width="4" stroke-linecap="round" stroke-linejoin="round" opacity="0.65" filter="url(#blur2)"/><path d="M1656.1,699.1 L1701.1,715.5 L1735.9,733.9 L1772.7,762.5 L1793.2,791.2" fill="none" stroke="#35a4ae" stroke-width="4" stroke-linecap="round" stroke-linejoin="round" opacity="0.65" filter="url(#blur2)"/><path d="M1721.6,778.9 L1690.9,815.7 L1670.5,866.9" fill="none" stroke="#35a4ae" stroke-width="4" stroke-linecap="round" stroke-linejoin="round" opacity="0.65" filter="url(#blur2)"/><ellipse cx="1962" cy="684" rx="38" ry="24" fill="#35a4ae" opacity="0.55" filter="url(#blur5)"/><ellipse cx="1722" cy="779" rx="26" ry="20" fill="#35a4ae" opacity="0.5" filter="url(#blur5)"/></g>
<rect x="1843.6" y="718.8" width="152.8" height="151.7" fill="#ccc" filter="url(#mia)"/>
<g clip-path="url(#clip_mia)"><ellipse cx="1945" cy="830" rx="70" ry="50" fill="#c2a6c6" opacity="0.55" filter="url(#blur5)"/></g>
<rect x="1843.6" y="718.8" width="152.8" height="151.7" fill="none" stroke="#231f20" stroke-width="3.6"/>
<rect x="1653" y="650.7" width="343.4" height="219.8" fill="none" stroke="#231f20" stroke-width="3.8"/>
<rect x="1300.5" y="879" width="342.5" height="219.0" fill="#ccc" filter="url(#cd8b)"/>
<rect x="1491" y="945.3" width="152.0" height="152.7" fill="#ccc" filter="url(#cd8ib)"/>
<rect x="1491" y="945.3" width="152.0" height="152.7" fill="none" stroke="#231f20" stroke-width="3.6"/>
<rect x="1300.5" y="879" width="342.5" height="219.0" fill="none" stroke="#231f20" stroke-width="3.8"/>
<rect x="1653" y="879" width="343.4" height="219.0" fill="#ccc" filter="url(#mb)"/>
<g clip-path="url(#clip_mb)"><ellipse cx="1732" cy="903" rx="16" ry="24" fill="#6a1e4c" opacity="0.38" filter="url(#blur5)"/><ellipse cx="1986" cy="898" rx="14" ry="20" fill="#5a1a44" opacity="0.45" filter="url(#blur5)"/><ellipse cx="1700" cy="960" rx="12" ry="30" fill="#6a1e4c" opacity="0.3" filter="url(#blur5)"/><path d="M1656.1,927.1 L1680.7,923.0 L1697.0,941.5 L1711.4,961.9" fill="none" stroke="#4f9fb0" stroke-width="3" stroke-linecap="round" stroke-linejoin="round" opacity="0.6" filter="url(#blur2)"/><path d="M1656.1,998.7 L1690.9,1006.9 L1717.5,1019.2 L1735.9,1039.6" fill="none" stroke="#4f9fb0" stroke-width="3" stroke-linecap="round" stroke-linejoin="round" opacity="0.6" filter="url(#blur2)"/><path d="M1742.0,957.8 L1772.7,943.5 L1803.4,927.1 L1834.1,916.9" fill="none" stroke="#4f9fb0" stroke-width="3" stroke-linecap="round" stroke-linejoin="round" opacity="0.6" filter="url(#blur2)"/><path d="M1885.2,888.3 L1895.4,916.9 L1891.4,943.5" fill="none" stroke="#4f9fb0" stroke-width="3" stroke-linecap="round" stroke-linejoin="round" opacity="0.6" filter="url(#blur2)"/></g>
<rect x="1843.6" y="945.3" width="152.8" height="152.7" fill="#ccc" filter="url(#mib)"/>
<g clip-path="url(#clip_mib)"><path d="M1944.5,951.7 L1946.6,998.7 L1944.5,1039.6 L1950.7,1094.9" fill="none" stroke="#4aa6b4" stroke-width="8" stroke-linecap="round" stroke-linejoin="round" opacity="0.55" filter="url(#blur2)"/><path d="M1854.5,990.5 L1905.7,986.5 L1956.8,990.5 L1993.6,982.4" fill="none" stroke="#4aa6b4" stroke-width="8" stroke-linecap="round" stroke-linejoin="round" opacity="0.55" filter="url(#blur2)"/></g>
<rect x="1843.6" y="945.3" width="152.8" height="152.7" fill="none" stroke="#231f20" stroke-width="3.6"/>
<rect x="1653" y="879" width="343.4" height="219.0" fill="none" stroke="#231f20" stroke-width="3.8"/>
<text x="1478.8" y="640.0" font-size="37.8" text-anchor="middle" fill="#231815">anti-CD8</text>
<text x="1831.0" y="640.0" font-size="38" text-anchor="middle" fill="#231815">masson</text>
<text x="1289.3" y="758.9" font-size="38" text-anchor="middle" fill="#231815" transform="rotate(-90 1289.3 758.9)">ctrl</text>
<text x="1289.3" y="979.7" font-size="38" text-anchor="middle" fill="#231815" transform="rotate(-90 1289.3 979.7)">anti-B7-H3</text>
<rect x="1663.3" y="1080.5" width="102.3" height="7.2" fill="#231f20"/>
<text x="1714.3" y="1068.5" font-size="32.5" text-anchor="middle" font-weight="bold" fill="#231f20">200µm</text>
</svg>
</body></html>
